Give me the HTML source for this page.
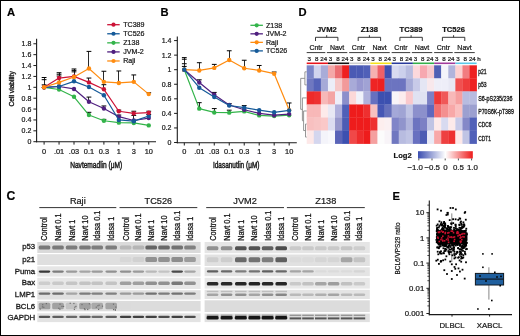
<!DOCTYPE html>
<html><head><meta charset="utf-8"><style>
html,body{margin:0;padding:0;background:#fff;}
svg{display:block;will-change:transform;}
text{font-family:"Liberation Sans", sans-serif;stroke:#1a1a1a;stroke-width:0.22px;}
</style></head><body>
<svg width="520" height="336" viewBox="0 0 520 336">
<rect x="0" y="0" width="520" height="336" fill="#fff"/>
<text x="6.90" y="15.70" font-size="11.2" text-anchor="start" font-weight="bold" fill="#000" >A</text>
<text x="160.50" y="15.70" font-size="11.2" text-anchor="start" font-weight="bold" fill="#000" >B</text>
<text x="6.60" y="199.70" font-size="12.2" text-anchor="start" font-weight="bold" fill="#000" >C</text>
<text x="298.40" y="15.70" font-size="11.2" text-anchor="start" font-weight="bold" fill="#000" >D</text>
<text x="392.60" y="199.60" font-size="11.2" text-anchor="start" font-weight="bold" fill="#000" >E</text>
<line x1="36.60" y1="38.80" x2="36.60" y2="142.30" stroke="#1a1a1a" stroke-width="1.1" />
<line x1="36.10" y1="141.80" x2="156.00" y2="141.80" stroke="#1a1a1a" stroke-width="1.1" />
<line x1="33.40" y1="141.70" x2="36.60" y2="141.70" stroke="#1a1a1a" stroke-width="1" />
<text x="31.30" y="144.20" font-size="7" text-anchor="end" font-weight="normal" fill="#1a1a1a" >0</text>
<line x1="33.40" y1="130.82" x2="36.60" y2="130.82" stroke="#1a1a1a" stroke-width="1" />
<text x="31.30" y="133.32" font-size="7" text-anchor="end" font-weight="normal" fill="#1a1a1a" >0.2</text>
<line x1="33.40" y1="119.94" x2="36.60" y2="119.94" stroke="#1a1a1a" stroke-width="1" />
<text x="31.30" y="122.44" font-size="7" text-anchor="end" font-weight="normal" fill="#1a1a1a" >0.4</text>
<line x1="33.40" y1="109.06" x2="36.60" y2="109.06" stroke="#1a1a1a" stroke-width="1" />
<text x="31.30" y="111.56" font-size="7" text-anchor="end" font-weight="normal" fill="#1a1a1a" >0.6</text>
<line x1="33.40" y1="98.18" x2="36.60" y2="98.18" stroke="#1a1a1a" stroke-width="1" />
<text x="31.30" y="100.68" font-size="7" text-anchor="end" font-weight="normal" fill="#1a1a1a" >0.8</text>
<line x1="33.40" y1="87.30" x2="36.60" y2="87.30" stroke="#1a1a1a" stroke-width="1" />
<text x="31.30" y="89.80" font-size="7" text-anchor="end" font-weight="normal" fill="#1a1a1a" >1</text>
<line x1="33.40" y1="76.42" x2="36.60" y2="76.42" stroke="#1a1a1a" stroke-width="1" />
<text x="31.30" y="78.92" font-size="7" text-anchor="end" font-weight="normal" fill="#1a1a1a" >1.2</text>
<line x1="33.40" y1="65.54" x2="36.60" y2="65.54" stroke="#1a1a1a" stroke-width="1" />
<text x="31.30" y="68.04" font-size="7" text-anchor="end" font-weight="normal" fill="#1a1a1a" >1.4</text>
<line x1="33.40" y1="54.66" x2="36.60" y2="54.66" stroke="#1a1a1a" stroke-width="1" />
<text x="31.30" y="57.16" font-size="7" text-anchor="end" font-weight="normal" fill="#1a1a1a" >1.6</text>
<line x1="33.40" y1="43.78" x2="36.60" y2="43.78" stroke="#1a1a1a" stroke-width="1" />
<text x="31.30" y="46.28" font-size="7" text-anchor="end" font-weight="normal" fill="#1a1a1a" >1.8</text>
<line x1="44.10" y1="141.80" x2="44.10" y2="144.60" stroke="#1a1a1a" stroke-width="1" />
<text x="44.10" y="153.80" font-size="7.4" text-anchor="middle" font-weight="normal" fill="#1a1a1a" >0</text>
<line x1="59.05" y1="141.80" x2="59.05" y2="144.60" stroke="#1a1a1a" stroke-width="1" />
<text x="59.05" y="153.80" font-size="7.4" text-anchor="middle" font-weight="normal" fill="#1a1a1a" >.01</text>
<line x1="74.00" y1="141.80" x2="74.00" y2="144.60" stroke="#1a1a1a" stroke-width="1" />
<text x="74.00" y="153.80" font-size="7.4" text-anchor="middle" font-weight="normal" fill="#1a1a1a" >.03</text>
<line x1="88.95" y1="141.80" x2="88.95" y2="144.60" stroke="#1a1a1a" stroke-width="1" />
<text x="88.95" y="153.80" font-size="7.4" text-anchor="middle" font-weight="normal" fill="#1a1a1a" >0.1</text>
<line x1="103.90" y1="141.80" x2="103.90" y2="144.60" stroke="#1a1a1a" stroke-width="1" />
<text x="103.90" y="153.80" font-size="7.4" text-anchor="middle" font-weight="normal" fill="#1a1a1a" >0.3</text>
<line x1="118.85" y1="141.80" x2="118.85" y2="144.60" stroke="#1a1a1a" stroke-width="1" />
<text x="118.85" y="153.80" font-size="7.4" text-anchor="middle" font-weight="normal" fill="#1a1a1a" >1</text>
<line x1="133.80" y1="141.80" x2="133.80" y2="144.60" stroke="#1a1a1a" stroke-width="1" />
<text x="133.80" y="153.80" font-size="7.4" text-anchor="middle" font-weight="normal" fill="#1a1a1a" >3</text>
<line x1="148.75" y1="141.80" x2="148.75" y2="144.60" stroke="#1a1a1a" stroke-width="1" />
<text x="148.75" y="153.80" font-size="7.4" text-anchor="middle" font-weight="normal" fill="#1a1a1a" >10</text>
<text x="96.20" y="167.60" font-size="8.3" text-anchor="middle" font-weight="normal" fill="#1a1a1a" textLength="52" lengthAdjust="spacingAndGlyphs" style="stroke-width:0.45px">Navtemadlin (μM)</text>
<line x1="44.50" y1="87.30" x2="44.50" y2="77.51" stroke="#2a2a2a" stroke-width="1.0" />
<line x1="41.70" y1="77.51" x2="46.50" y2="77.51" stroke="#000" stroke-width="1.0" />
<line x1="44.50" y1="87.30" x2="44.50" y2="79.68" stroke="#2a2a2a" stroke-width="1.0" />
<line x1="41.70" y1="79.68" x2="46.50" y2="79.68" stroke="#000" stroke-width="1.0" />
<line x1="44.50" y1="87.30" x2="44.50" y2="84.85" stroke="#2a2a2a" stroke-width="1.0" />
<line x1="41.70" y1="84.85" x2="46.50" y2="84.85" stroke="#000" stroke-width="1.0" />
<line x1="59.50" y1="78.05" x2="59.50" y2="72.72" stroke="#2a2a2a" stroke-width="1.0" />
<line x1="56.65" y1="72.72" x2="61.45" y2="72.72" stroke="#000" stroke-width="1.0" />
<line x1="59.50" y1="78.05" x2="59.50" y2="74.24" stroke="#2a2a2a" stroke-width="1.0" />
<line x1="56.65" y1="74.24" x2="61.45" y2="74.24" stroke="#000" stroke-width="1.0" />
<line x1="59.50" y1="82.40" x2="59.50" y2="76.04" stroke="#2a2a2a" stroke-width="1.0" />
<line x1="56.65" y1="76.04" x2="61.45" y2="76.04" stroke="#000" stroke-width="1.0" />
<line x1="74.50" y1="76.42" x2="74.50" y2="68.97" stroke="#2a2a2a" stroke-width="1.0" />
<line x1="71.60" y1="68.97" x2="76.40" y2="68.97" stroke="#000" stroke-width="1.0" />
<line x1="74.50" y1="76.42" x2="74.50" y2="70.38" stroke="#2a2a2a" stroke-width="1.0" />
<line x1="71.60" y1="70.38" x2="76.40" y2="70.38" stroke="#000" stroke-width="1.0" />
<line x1="74.50" y1="76.96" x2="74.50" y2="71.85" stroke="#2a2a2a" stroke-width="1.0" />
<line x1="71.60" y1="71.85" x2="76.40" y2="71.85" stroke="#000" stroke-width="1.0" />
<line x1="88.50" y1="68.53" x2="88.50" y2="51.40" stroke="#2a2a2a" stroke-width="1.0" />
<line x1="86.55" y1="51.40" x2="91.35" y2="51.40" stroke="#000" stroke-width="1.0" />
<line x1="88.50" y1="82.40" x2="88.50" y2="78.05" stroke="#2a2a2a" stroke-width="1.0" />
<line x1="86.55" y1="78.05" x2="91.35" y2="78.05" stroke="#000" stroke-width="1.0" />
<line x1="88.50" y1="101.72" x2="88.50" y2="97.09" stroke="#2a2a2a" stroke-width="1.0" />
<line x1="86.55" y1="97.09" x2="91.35" y2="97.09" stroke="#000" stroke-width="1.0" />
<line x1="88.50" y1="115.04" x2="88.50" y2="112.32" stroke="#2a2a2a" stroke-width="1.0" />
<line x1="86.55" y1="112.32" x2="91.35" y2="112.32" stroke="#000" stroke-width="1.0" />
<line x1="103.50" y1="81.86" x2="103.50" y2="71.25" stroke="#2a2a2a" stroke-width="1.0" />
<line x1="101.50" y1="71.25" x2="106.30" y2="71.25" stroke="#000" stroke-width="1.0" />
<line x1="103.50" y1="89.31" x2="103.50" y2="84.69" stroke="#2a2a2a" stroke-width="1.0" />
<line x1="101.50" y1="84.69" x2="106.30" y2="84.69" stroke="#000" stroke-width="1.0" />
<line x1="103.50" y1="108.52" x2="103.50" y2="105.96" stroke="#2a2a2a" stroke-width="1.0" />
<line x1="101.50" y1="105.96" x2="106.30" y2="105.96" stroke="#000" stroke-width="1.0" />
<line x1="103.50" y1="120.76" x2="103.50" y2="119.40" stroke="#2a2a2a" stroke-width="1.0" />
<line x1="101.50" y1="119.40" x2="106.30" y2="119.40" stroke="#000" stroke-width="1.0" />
<line x1="118.50" y1="82.95" x2="118.50" y2="70.98" stroke="#2a2a2a" stroke-width="1.0" />
<line x1="116.45" y1="70.98" x2="121.25" y2="70.98" stroke="#000" stroke-width="1.0" />
<line x1="118.50" y1="111.24" x2="118.50" y2="110.15" stroke="#2a2a2a" stroke-width="1.0" />
<line x1="116.45" y1="110.15" x2="121.25" y2="110.15" stroke="#000" stroke-width="1.0" />
<line x1="118.50" y1="116.68" x2="118.50" y2="115.04" stroke="#2a2a2a" stroke-width="1.0" />
<line x1="116.45" y1="115.04" x2="121.25" y2="115.04" stroke="#000" stroke-width="1.0" />
<line x1="133.50" y1="81.86" x2="133.50" y2="74.95" stroke="#2a2a2a" stroke-width="1.0" />
<line x1="131.40" y1="74.95" x2="136.20" y2="74.95" stroke="#000" stroke-width="1.0" />
<line x1="133.50" y1="113.41" x2="133.50" y2="111.24" stroke="#2a2a2a" stroke-width="1.0" />
<line x1="131.40" y1="111.24" x2="136.20" y2="111.24" stroke="#000" stroke-width="1.0" />
<line x1="133.50" y1="121.19" x2="133.50" y2="115.42" stroke="#2a2a2a" stroke-width="1.0" />
<line x1="131.40" y1="115.42" x2="136.20" y2="115.42" stroke="#000" stroke-width="1.0" />
<line x1="148.50" y1="94.10" x2="148.50" y2="92.74" stroke="#2a2a2a" stroke-width="1.0" />
<line x1="146.35" y1="92.74" x2="151.15" y2="92.74" stroke="#000" stroke-width="1.0" />
<line x1="148.50" y1="112.70" x2="148.50" y2="111.24" stroke="#2a2a2a" stroke-width="1.0" />
<line x1="146.35" y1="111.24" x2="151.15" y2="111.24" stroke="#000" stroke-width="1.0" />
<line x1="148.50" y1="115.97" x2="148.50" y2="114.50" stroke="#2a2a2a" stroke-width="1.0" />
<line x1="146.35" y1="114.50" x2="151.15" y2="114.50" stroke="#000" stroke-width="1.0" />
<polyline points="44.10,87.30 59.05,89.48 74.00,96.82 88.95,115.04 103.90,120.76 118.85,122.66 133.80,122.93 148.75,125.38" fill="none" stroke="#33b44a" stroke-width="1.2" stroke-linejoin="round"/>
<circle cx="44.10" cy="87.30" r="2.2" fill="#33b44a"/>
<circle cx="59.05" cy="89.48" r="2.2" fill="#33b44a"/>
<circle cx="74.00" cy="96.82" r="2.2" fill="#33b44a"/>
<circle cx="88.95" cy="115.04" r="2.2" fill="#33b44a"/>
<circle cx="103.90" cy="120.76" r="2.2" fill="#33b44a"/>
<circle cx="118.85" cy="122.66" r="2.2" fill="#33b44a"/>
<circle cx="133.80" cy="122.93" r="2.2" fill="#33b44a"/>
<circle cx="148.75" cy="125.38" r="2.2" fill="#33b44a"/>
<polyline points="44.10,87.30 59.05,86.48 74.00,88.93 88.95,101.72 103.90,108.52 118.85,116.68 133.80,120.48 148.75,118.09" fill="none" stroke="#4f1f7f" stroke-width="1.2" stroke-linejoin="round"/>
<circle cx="44.10" cy="87.30" r="2.2" fill="#4f1f7f"/>
<circle cx="59.05" cy="86.48" r="2.2" fill="#4f1f7f"/>
<circle cx="74.00" cy="88.93" r="2.2" fill="#4f1f7f"/>
<circle cx="88.95" cy="101.72" r="2.2" fill="#4f1f7f"/>
<circle cx="103.90" cy="108.52" r="2.2" fill="#4f1f7f"/>
<circle cx="118.85" cy="116.68" r="2.2" fill="#4f1f7f"/>
<circle cx="133.80" cy="120.48" r="2.2" fill="#4f1f7f"/>
<circle cx="148.75" cy="118.09" r="2.2" fill="#4f1f7f"/>
<polyline points="44.10,87.30 59.05,86.48 74.00,81.32 88.95,87.03 103.90,95.19 118.85,119.94 133.80,121.19 148.75,115.97" fill="none" stroke="#155a99" stroke-width="1.2" stroke-linejoin="round"/>
<circle cx="44.10" cy="87.30" r="2.2" fill="#155a99"/>
<circle cx="59.05" cy="86.48" r="2.2" fill="#155a99"/>
<circle cx="74.00" cy="81.32" r="2.2" fill="#155a99"/>
<circle cx="88.95" cy="87.03" r="2.2" fill="#155a99"/>
<circle cx="103.90" cy="95.19" r="2.2" fill="#155a99"/>
<circle cx="118.85" cy="119.94" r="2.2" fill="#155a99"/>
<circle cx="133.80" cy="121.19" r="2.2" fill="#155a99"/>
<circle cx="148.75" cy="115.97" r="2.2" fill="#155a99"/>
<polyline points="44.10,87.30 59.05,78.05 74.00,76.42 88.95,82.40 103.90,89.31 118.85,111.24 133.80,113.41 148.75,112.70" fill="none" stroke="#cc1236" stroke-width="1.2" stroke-linejoin="round"/>
<circle cx="44.10" cy="87.30" r="2.2" fill="#cc1236"/>
<circle cx="59.05" cy="78.05" r="2.2" fill="#cc1236"/>
<circle cx="74.00" cy="76.42" r="2.2" fill="#cc1236"/>
<circle cx="88.95" cy="82.40" r="2.2" fill="#cc1236"/>
<circle cx="103.90" cy="89.31" r="2.2" fill="#cc1236"/>
<circle cx="118.85" cy="111.24" r="2.2" fill="#cc1236"/>
<circle cx="133.80" cy="113.41" r="2.2" fill="#cc1236"/>
<circle cx="148.75" cy="112.70" r="2.2" fill="#cc1236"/>
<polyline points="44.10,87.30 59.05,82.40 74.00,76.96 88.95,68.53 103.90,81.86 118.85,82.95 133.80,81.86 148.75,94.10" fill="none" stroke="#ff8c10" stroke-width="1.2" stroke-linejoin="round"/>
<circle cx="44.10" cy="87.30" r="2.2" fill="#ff8c10"/>
<circle cx="59.05" cy="82.40" r="2.2" fill="#ff8c10"/>
<circle cx="74.00" cy="76.96" r="2.2" fill="#ff8c10"/>
<circle cx="88.95" cy="68.53" r="2.2" fill="#ff8c10"/>
<circle cx="103.90" cy="81.86" r="2.2" fill="#ff8c10"/>
<circle cx="118.85" cy="82.95" r="2.2" fill="#ff8c10"/>
<circle cx="133.80" cy="81.86" r="2.2" fill="#ff8c10"/>
<circle cx="148.75" cy="94.10" r="2.2" fill="#ff8c10"/>
<line x1="107.20" y1="24.70" x2="119.70" y2="24.70" stroke="#cc1236" stroke-width="1.3" />
<circle cx="113.50" cy="24.70" r="2.1" fill="#cc1236"/>
<text x="123.20" y="27.20" font-size="7.1" text-anchor="start" font-weight="normal" fill="#1a1a1a" >TC389</text>
<line x1="107.20" y1="33.77" x2="119.70" y2="33.77" stroke="#155a99" stroke-width="1.3" />
<circle cx="113.50" cy="33.77" r="2.1" fill="#155a99"/>
<text x="123.20" y="36.27" font-size="7.1" text-anchor="start" font-weight="normal" fill="#1a1a1a" >TC526</text>
<line x1="107.20" y1="42.84" x2="119.70" y2="42.84" stroke="#33b44a" stroke-width="1.3" />
<circle cx="113.50" cy="42.84" r="2.1" fill="#33b44a"/>
<text x="123.20" y="45.34" font-size="7.1" text-anchor="start" font-weight="normal" fill="#1a1a1a" >Z138</text>
<line x1="107.20" y1="51.91" x2="119.70" y2="51.91" stroke="#4f1f7f" stroke-width="1.3" />
<circle cx="113.50" cy="51.91" r="2.1" fill="#4f1f7f"/>
<text x="123.20" y="54.41" font-size="7.1" text-anchor="start" font-weight="normal" fill="#1a1a1a" >JVM-2</text>
<line x1="107.20" y1="60.98" x2="119.70" y2="60.98" stroke="#ff8c10" stroke-width="1.3" />
<circle cx="113.50" cy="60.98" r="2.1" fill="#ff8c10"/>
<text x="123.20" y="63.48" font-size="7.1" text-anchor="start" font-weight="normal" fill="#1a1a1a" >Raji</text>
<text transform="translate(14.2,88.9) rotate(-90)" font-size="6.7" text-anchor="middle" fill="#1a1a1a" style="stroke-width:0.35px">Cell viability</text>
<line x1="177.30" y1="36.40" x2="177.30" y2="143.20" stroke="#1a1a1a" stroke-width="1.1" />
<line x1="176.80" y1="142.70" x2="296.80" y2="142.70" stroke="#1a1a1a" stroke-width="1.1" />
<line x1="174.10" y1="142.50" x2="177.30" y2="142.50" stroke="#1a1a1a" stroke-width="1" />
<text x="171.40" y="145.00" font-size="7" text-anchor="end" font-weight="normal" fill="#1a1a1a" >0</text>
<line x1="174.10" y1="127.94" x2="177.30" y2="127.94" stroke="#1a1a1a" stroke-width="1" />
<text x="171.40" y="130.44" font-size="7" text-anchor="end" font-weight="normal" fill="#1a1a1a" >0.2</text>
<line x1="174.10" y1="113.38" x2="177.30" y2="113.38" stroke="#1a1a1a" stroke-width="1" />
<text x="171.40" y="115.88" font-size="7" text-anchor="end" font-weight="normal" fill="#1a1a1a" >0.4</text>
<line x1="174.10" y1="98.82" x2="177.30" y2="98.82" stroke="#1a1a1a" stroke-width="1" />
<text x="171.40" y="101.32" font-size="7" text-anchor="end" font-weight="normal" fill="#1a1a1a" >0.6</text>
<line x1="174.10" y1="84.26" x2="177.30" y2="84.26" stroke="#1a1a1a" stroke-width="1" />
<text x="171.40" y="86.76" font-size="7" text-anchor="end" font-weight="normal" fill="#1a1a1a" >0.8</text>
<line x1="174.10" y1="69.70" x2="177.30" y2="69.70" stroke="#1a1a1a" stroke-width="1" />
<text x="171.40" y="72.20" font-size="7" text-anchor="end" font-weight="normal" fill="#1a1a1a" >1</text>
<line x1="174.10" y1="55.14" x2="177.30" y2="55.14" stroke="#1a1a1a" stroke-width="1" />
<text x="171.40" y="57.64" font-size="7" text-anchor="end" font-weight="normal" fill="#1a1a1a" >1.2</text>
<line x1="174.10" y1="40.58" x2="177.30" y2="40.58" stroke="#1a1a1a" stroke-width="1" />
<text x="171.40" y="43.08" font-size="7" text-anchor="end" font-weight="normal" fill="#1a1a1a" >1.4</text>
<line x1="184.30" y1="142.70" x2="184.30" y2="145.50" stroke="#1a1a1a" stroke-width="1" />
<text x="184.30" y="154.00" font-size="7.4" text-anchor="middle" font-weight="normal" fill="#1a1a1a" >0</text>
<line x1="199.28" y1="142.70" x2="199.28" y2="145.50" stroke="#1a1a1a" stroke-width="1" />
<text x="199.28" y="154.00" font-size="7.4" text-anchor="middle" font-weight="normal" fill="#1a1a1a" >.01</text>
<line x1="214.26" y1="142.70" x2="214.26" y2="145.50" stroke="#1a1a1a" stroke-width="1" />
<text x="214.26" y="154.00" font-size="7.4" text-anchor="middle" font-weight="normal" fill="#1a1a1a" >.03</text>
<line x1="229.24" y1="142.70" x2="229.24" y2="145.50" stroke="#1a1a1a" stroke-width="1" />
<text x="229.24" y="154.00" font-size="7.4" text-anchor="middle" font-weight="normal" fill="#1a1a1a" >0.1</text>
<line x1="244.22" y1="142.70" x2="244.22" y2="145.50" stroke="#1a1a1a" stroke-width="1" />
<text x="244.22" y="154.00" font-size="7.4" text-anchor="middle" font-weight="normal" fill="#1a1a1a" >0.3</text>
<line x1="259.20" y1="142.70" x2="259.20" y2="145.50" stroke="#1a1a1a" stroke-width="1" />
<text x="259.20" y="154.00" font-size="7.4" text-anchor="middle" font-weight="normal" fill="#1a1a1a" >1</text>
<line x1="274.18" y1="142.70" x2="274.18" y2="145.50" stroke="#1a1a1a" stroke-width="1" />
<text x="274.18" y="154.00" font-size="7.4" text-anchor="middle" font-weight="normal" fill="#1a1a1a" >3</text>
<line x1="289.16" y1="142.70" x2="289.16" y2="145.50" stroke="#1a1a1a" stroke-width="1" />
<text x="289.16" y="154.00" font-size="7.4" text-anchor="middle" font-weight="normal" fill="#1a1a1a" >10</text>
<text x="236.20" y="167.60" font-size="8.3" text-anchor="middle" font-weight="normal" fill="#1a1a1a" textLength="46.5" lengthAdjust="spacingAndGlyphs" style="stroke-width:0.45px">Idasanutlin (μM)</text>
<line x1="184.50" y1="69.70" x2="184.50" y2="57.62" stroke="#2a2a2a" stroke-width="1.0" />
<line x1="181.90" y1="57.62" x2="186.70" y2="57.62" stroke="#000" stroke-width="1.0" />
<line x1="184.50" y1="69.70" x2="184.50" y2="59.22" stroke="#2a2a2a" stroke-width="1.0" />
<line x1="181.90" y1="59.22" x2="186.70" y2="59.22" stroke="#000" stroke-width="1.0" />
<line x1="184.50" y1="69.70" x2="184.50" y2="63.73" stroke="#2a2a2a" stroke-width="1.0" />
<line x1="181.90" y1="63.73" x2="186.70" y2="63.73" stroke="#000" stroke-width="1.0" />
<line x1="184.50" y1="69.70" x2="184.50" y2="66.42" stroke="#2a2a2a" stroke-width="1.0" />
<line x1="181.90" y1="66.42" x2="186.70" y2="66.42" stroke="#000" stroke-width="1.0" />
<line x1="199.50" y1="70.43" x2="199.50" y2="62.71" stroke="#2a2a2a" stroke-width="1.0" />
<line x1="196.88" y1="62.71" x2="201.68" y2="62.71" stroke="#000" stroke-width="1.0" />
<line x1="199.50" y1="82.44" x2="199.50" y2="79.82" stroke="#2a2a2a" stroke-width="1.0" />
<line x1="196.88" y1="79.82" x2="201.68" y2="79.82" stroke="#000" stroke-width="1.0" />
<line x1="199.50" y1="108.65" x2="199.50" y2="102.68" stroke="#2a2a2a" stroke-width="1.0" />
<line x1="196.88" y1="102.68" x2="201.68" y2="102.68" stroke="#000" stroke-width="1.0" />
<line x1="214.50" y1="67.88" x2="214.50" y2="64.39" stroke="#2a2a2a" stroke-width="1.0" />
<line x1="211.86" y1="64.39" x2="216.66" y2="64.39" stroke="#000" stroke-width="1.0" />
<line x1="214.50" y1="94.82" x2="214.50" y2="92.41" stroke="#2a2a2a" stroke-width="1.0" />
<line x1="211.86" y1="92.41" x2="216.66" y2="92.41" stroke="#000" stroke-width="1.0" />
<line x1="214.50" y1="112.43" x2="214.50" y2="108.58" stroke="#2a2a2a" stroke-width="1.0" />
<line x1="211.86" y1="108.58" x2="216.66" y2="108.58" stroke="#000" stroke-width="1.0" />
<line x1="229.50" y1="60.02" x2="229.50" y2="50.77" stroke="#2a2a2a" stroke-width="1.0" />
<line x1="226.84" y1="50.77" x2="231.64" y2="50.77" stroke="#000" stroke-width="1.0" />
<line x1="229.50" y1="105.01" x2="229.50" y2="103.55" stroke="#2a2a2a" stroke-width="1.0" />
<line x1="226.84" y1="103.55" x2="231.64" y2="103.55" stroke="#000" stroke-width="1.0" />
<line x1="229.50" y1="112.65" x2="229.50" y2="110.18" stroke="#2a2a2a" stroke-width="1.0" />
<line x1="226.84" y1="110.18" x2="231.64" y2="110.18" stroke="#000" stroke-width="1.0" />
<line x1="244.50" y1="68.24" x2="244.50" y2="60.24" stroke="#2a2a2a" stroke-width="1.0" />
<line x1="241.82" y1="60.24" x2="246.62" y2="60.24" stroke="#000" stroke-width="1.0" />
<line x1="244.50" y1="107.63" x2="244.50" y2="105.59" stroke="#2a2a2a" stroke-width="1.0" />
<line x1="241.82" y1="105.59" x2="246.62" y2="105.59" stroke="#000" stroke-width="1.0" />
<line x1="259.50" y1="70.43" x2="259.50" y2="65.48" stroke="#2a2a2a" stroke-width="1.0" />
<line x1="256.80" y1="65.48" x2="261.60" y2="65.48" stroke="#000" stroke-width="1.0" />
<line x1="274.50" y1="73.70" x2="274.50" y2="72.03" stroke="#2a2a2a" stroke-width="1.0" />
<line x1="271.78" y1="72.03" x2="276.58" y2="72.03" stroke="#000" stroke-width="1.0" />
<line x1="289.50" y1="110.10" x2="289.50" y2="102.97" stroke="#2a2a2a" stroke-width="1.0" />
<line x1="286.76" y1="102.97" x2="291.56" y2="102.97" stroke="#000" stroke-width="1.0" />
<polyline points="184.30,69.70 199.28,108.65 214.26,112.43 229.24,112.65 244.22,111.41 259.20,115.42 274.18,116.07 289.16,115.20" fill="none" stroke="#33b44a" stroke-width="1.2" stroke-linejoin="round"/>
<circle cx="184.30" cy="69.70" r="2.2" fill="#33b44a"/>
<circle cx="199.28" cy="108.65" r="2.2" fill="#33b44a"/>
<circle cx="214.26" cy="112.43" r="2.2" fill="#33b44a"/>
<circle cx="229.24" cy="112.65" r="2.2" fill="#33b44a"/>
<circle cx="244.22" cy="111.41" r="2.2" fill="#33b44a"/>
<circle cx="259.20" cy="115.42" r="2.2" fill="#33b44a"/>
<circle cx="274.18" cy="116.07" r="2.2" fill="#33b44a"/>
<circle cx="289.16" cy="115.20" r="2.2" fill="#33b44a"/>
<polyline points="184.30,69.70 199.28,82.44 214.26,94.82 229.24,105.01 244.22,109.74 259.20,113.38 274.18,115.20 289.16,114.11" fill="none" stroke="#4f1f7f" stroke-width="1.2" stroke-linejoin="round"/>
<circle cx="184.30" cy="69.70" r="2.2" fill="#4f1f7f"/>
<circle cx="199.28" cy="82.44" r="2.2" fill="#4f1f7f"/>
<circle cx="214.26" cy="94.82" r="2.2" fill="#4f1f7f"/>
<circle cx="229.24" cy="105.01" r="2.2" fill="#4f1f7f"/>
<circle cx="244.22" cy="109.74" r="2.2" fill="#4f1f7f"/>
<circle cx="259.20" cy="113.38" r="2.2" fill="#4f1f7f"/>
<circle cx="274.18" cy="115.20" r="2.2" fill="#4f1f7f"/>
<circle cx="289.16" cy="114.11" r="2.2" fill="#4f1f7f"/>
<polyline points="184.30,69.70 199.28,70.43 214.26,67.88 229.24,60.02 244.22,68.24 259.20,70.43 274.18,73.70 289.16,110.10" fill="none" stroke="#ff8c10" stroke-width="1.2" stroke-linejoin="round"/>
<circle cx="184.30" cy="69.70" r="2.2" fill="#ff8c10"/>
<circle cx="199.28" cy="70.43" r="2.2" fill="#ff8c10"/>
<circle cx="214.26" cy="67.88" r="2.2" fill="#ff8c10"/>
<circle cx="229.24" cy="60.02" r="2.2" fill="#ff8c10"/>
<circle cx="244.22" cy="68.24" r="2.2" fill="#ff8c10"/>
<circle cx="259.20" cy="70.43" r="2.2" fill="#ff8c10"/>
<circle cx="274.18" cy="73.70" r="2.2" fill="#ff8c10"/>
<circle cx="289.16" cy="110.10" r="2.2" fill="#ff8c10"/>
<polyline points="184.30,69.70 199.28,87.68 214.26,96.93 229.24,105.52 244.22,107.63 259.20,110.18 274.18,112.29 289.16,110.47" fill="none" stroke="#155a99" stroke-width="1.2" stroke-linejoin="round"/>
<circle cx="184.30" cy="69.70" r="2.2" fill="#155a99"/>
<circle cx="199.28" cy="87.68" r="2.2" fill="#155a99"/>
<circle cx="214.26" cy="96.93" r="2.2" fill="#155a99"/>
<circle cx="229.24" cy="105.52" r="2.2" fill="#155a99"/>
<circle cx="244.22" cy="107.63" r="2.2" fill="#155a99"/>
<circle cx="259.20" cy="110.18" r="2.2" fill="#155a99"/>
<circle cx="274.18" cy="112.29" r="2.2" fill="#155a99"/>
<circle cx="289.16" cy="110.47" r="2.2" fill="#155a99"/>
<line x1="250.40" y1="25.30" x2="262.90" y2="25.30" stroke="#33b44a" stroke-width="1.3" />
<circle cx="256.70" cy="25.30" r="2.1" fill="#33b44a"/>
<text x="266.00" y="27.80" font-size="7.1" text-anchor="start" font-weight="normal" fill="#1a1a1a" >Z138</text>
<line x1="250.40" y1="33.83" x2="262.90" y2="33.83" stroke="#4f1f7f" stroke-width="1.3" />
<circle cx="256.70" cy="33.83" r="2.1" fill="#4f1f7f"/>
<text x="266.00" y="36.33" font-size="7.1" text-anchor="start" font-weight="normal" fill="#1a1a1a" >JVM-2</text>
<line x1="250.40" y1="42.36" x2="262.90" y2="42.36" stroke="#ff8c10" stroke-width="1.3" />
<circle cx="256.70" cy="42.36" r="2.1" fill="#ff8c10"/>
<text x="266.00" y="44.86" font-size="7.1" text-anchor="start" font-weight="normal" fill="#1a1a1a" >Raji</text>
<line x1="250.40" y1="50.89" x2="262.90" y2="50.89" stroke="#155a99" stroke-width="1.3" />
<circle cx="256.70" cy="50.89" r="2.1" fill="#155a99"/>
<text x="266.00" y="53.39" font-size="7.1" text-anchor="start" font-weight="normal" fill="#1a1a1a" >TC526</text>
<rect x="306.70" y="65.30" width="7.38" height="13.35" fill="#7b86c8"/>
<rect x="313.78" y="65.30" width="7.38" height="13.35" fill="#d0d4ee"/>
<rect x="320.86" y="65.30" width="7.38" height="13.35" fill="#a8acd8"/>
<rect x="327.94" y="65.30" width="7.38" height="13.35" fill="#f4a8a8"/>
<rect x="335.02" y="65.30" width="7.38" height="13.35" fill="#ec6f73"/>
<rect x="342.10" y="65.30" width="7.38" height="13.35" fill="#ee2020"/>
<rect x="349.18" y="65.30" width="7.38" height="13.35" fill="#4a5ab4"/>
<rect x="356.25" y="65.30" width="7.38" height="13.35" fill="#4a5ab4"/>
<rect x="363.33" y="65.30" width="7.38" height="13.35" fill="#5060b8"/>
<rect x="370.41" y="65.30" width="7.38" height="13.35" fill="#f6b0b0"/>
<rect x="377.49" y="65.30" width="7.38" height="13.35" fill="#ee6066"/>
<rect x="384.57" y="65.30" width="7.38" height="13.35" fill="#3f50b0"/>
<rect x="391.65" y="65.30" width="7.38" height="13.35" fill="#d8daf0"/>
<rect x="398.73" y="65.30" width="7.38" height="13.35" fill="#ccd0ec"/>
<rect x="405.81" y="65.30" width="7.38" height="13.35" fill="#b8bce0"/>
<rect x="412.89" y="65.30" width="7.38" height="13.35" fill="#fcd8dc"/>
<rect x="419.97" y="65.30" width="7.38" height="13.35" fill="#f7a8b0"/>
<rect x="427.05" y="65.30" width="7.38" height="13.35" fill="#f8c8cc"/>
<rect x="434.12" y="65.30" width="7.38" height="13.35" fill="#5060b4"/>
<rect x="441.20" y="65.30" width="7.38" height="13.35" fill="#f4f4fa"/>
<rect x="448.28" y="65.30" width="7.38" height="13.35" fill="#b0b4dc"/>
<rect x="455.36" y="65.30" width="7.38" height="13.35" fill="#fcd0d0"/>
<rect x="462.44" y="65.30" width="7.38" height="13.35" fill="#f27c80"/>
<rect x="469.52" y="65.30" width="7.38" height="13.35" fill="#ee2020"/>
<rect x="306.70" y="78.35" width="7.38" height="13.35" fill="#6f78c0"/>
<rect x="313.78" y="78.35" width="7.38" height="13.35" fill="#5563b8"/>
<rect x="320.86" y="78.35" width="7.38" height="13.35" fill="#a6aad8"/>
<rect x="327.94" y="78.35" width="7.38" height="13.35" fill="#eceef8"/>
<rect x="335.02" y="78.35" width="7.38" height="13.35" fill="#f6c8c8"/>
<rect x="342.10" y="78.35" width="7.38" height="13.35" fill="#f29a9a"/>
<rect x="349.18" y="78.35" width="7.38" height="13.35" fill="#a8aad8"/>
<rect x="356.25" y="78.35" width="7.38" height="13.35" fill="#9898d0"/>
<rect x="363.33" y="78.35" width="7.38" height="13.35" fill="#a0a2d4"/>
<rect x="370.41" y="78.35" width="7.38" height="13.35" fill="#ee2424"/>
<rect x="377.49" y="78.35" width="7.38" height="13.35" fill="#ee2020"/>
<rect x="384.57" y="78.35" width="7.38" height="13.35" fill="#6c74c0"/>
<rect x="391.65" y="78.35" width="7.38" height="13.35" fill="#6c74c0"/>
<rect x="398.73" y="78.35" width="7.38" height="13.35" fill="#6c74c0"/>
<rect x="405.81" y="78.35" width="7.38" height="13.35" fill="#a8acd8"/>
<rect x="412.89" y="78.35" width="7.38" height="13.35" fill="#c8cae8"/>
<rect x="419.97" y="78.35" width="7.38" height="13.35" fill="#e4e6f4"/>
<rect x="427.05" y="78.35" width="7.38" height="13.35" fill="#f8e8ec"/>
<rect x="434.12" y="78.35" width="7.38" height="13.35" fill="#eeeef8"/>
<rect x="441.20" y="78.35" width="7.38" height="13.35" fill="#eeeef8"/>
<rect x="448.28" y="78.35" width="7.38" height="13.35" fill="#e8e8f4"/>
<rect x="455.36" y="78.35" width="7.38" height="13.35" fill="#f05050"/>
<rect x="462.44" y="78.35" width="7.38" height="13.35" fill="#ee3c3c"/>
<rect x="469.52" y="78.35" width="7.38" height="13.35" fill="#ee2020"/>
<rect x="306.70" y="91.40" width="7.38" height="13.35" fill="#ee2a2a"/>
<rect x="313.78" y="91.40" width="7.38" height="13.35" fill="#ee3030"/>
<rect x="320.86" y="91.40" width="7.38" height="13.35" fill="#f7b8b8"/>
<rect x="327.94" y="91.40" width="7.38" height="13.35" fill="#f4a4a4"/>
<rect x="335.02" y="91.40" width="7.38" height="13.35" fill="#eeeef8"/>
<rect x="342.10" y="91.40" width="7.38" height="13.35" fill="#8b8fcb"/>
<rect x="349.18" y="91.40" width="7.38" height="13.35" fill="#fcd8d8"/>
<rect x="356.25" y="91.40" width="7.38" height="13.35" fill="#f0f2fa"/>
<rect x="363.33" y="91.40" width="7.38" height="13.35" fill="#b0b2dc"/>
<rect x="370.41" y="91.40" width="7.38" height="13.35" fill="#6670c0"/>
<rect x="377.49" y="91.40" width="7.38" height="13.35" fill="#3c50b0"/>
<rect x="384.57" y="91.40" width="7.38" height="13.35" fill="#3c50b0"/>
<rect x="391.65" y="91.40" width="7.38" height="13.35" fill="#f8f4f8"/>
<rect x="398.73" y="91.40" width="7.38" height="13.35" fill="#fcecee"/>
<rect x="405.81" y="91.40" width="7.38" height="13.35" fill="#fac8cc"/>
<rect x="412.89" y="91.40" width="7.38" height="13.35" fill="#e0e2f2"/>
<rect x="419.97" y="91.40" width="7.38" height="13.35" fill="#e0e2f2"/>
<rect x="427.05" y="91.40" width="7.38" height="13.35" fill="#7c80c4"/>
<rect x="434.12" y="91.40" width="7.38" height="13.35" fill="#ee3838"/>
<rect x="441.20" y="91.40" width="7.38" height="13.35" fill="#f05858"/>
<rect x="448.28" y="91.40" width="7.38" height="13.35" fill="#f8b8b8"/>
<rect x="455.36" y="91.40" width="7.38" height="13.35" fill="#f6a0a0"/>
<rect x="462.44" y="91.40" width="7.38" height="13.35" fill="#b8bce0"/>
<rect x="469.52" y="91.40" width="7.38" height="13.35" fill="#b8bce0"/>
<rect x="306.70" y="104.45" width="7.38" height="13.35" fill="#f8b8b8"/>
<rect x="313.78" y="104.45" width="7.38" height="13.35" fill="#f8b8b8"/>
<rect x="320.86" y="104.45" width="7.38" height="13.35" fill="#fdeaea"/>
<rect x="327.94" y="104.45" width="7.38" height="13.35" fill="#e8e8f4"/>
<rect x="335.02" y="104.45" width="7.38" height="13.35" fill="#b0b0dc"/>
<rect x="342.10" y="104.45" width="7.38" height="13.35" fill="#5060b8"/>
<rect x="349.18" y="104.45" width="7.38" height="13.35" fill="#ee1c1c"/>
<rect x="356.25" y="104.45" width="7.38" height="13.35" fill="#ee1c1c"/>
<rect x="363.33" y="104.45" width="7.38" height="13.35" fill="#ee3030"/>
<rect x="370.41" y="104.45" width="7.38" height="13.35" fill="#f8c0c0"/>
<rect x="377.49" y="104.45" width="7.38" height="13.35" fill="#4656b4"/>
<rect x="384.57" y="104.45" width="7.38" height="13.35" fill="#6670bc"/>
<rect x="391.65" y="104.45" width="7.38" height="13.35" fill="#a4a8d8"/>
<rect x="398.73" y="104.45" width="7.38" height="13.35" fill="#a0a4d4"/>
<rect x="405.81" y="104.45" width="7.38" height="13.35" fill="#c0c4e4"/>
<rect x="412.89" y="104.45" width="7.38" height="13.35" fill="#8c90cc"/>
<rect x="419.97" y="104.45" width="7.38" height="13.35" fill="#8c90cc"/>
<rect x="427.05" y="104.45" width="7.38" height="13.35" fill="#6068bc"/>
<rect x="434.12" y="104.45" width="7.38" height="13.35" fill="#f27070"/>
<rect x="441.20" y="104.45" width="7.38" height="13.35" fill="#f49090"/>
<rect x="448.28" y="104.45" width="7.38" height="13.35" fill="#f8a8a8"/>
<rect x="455.36" y="104.45" width="7.38" height="13.35" fill="#fac0c0"/>
<rect x="462.44" y="104.45" width="7.38" height="13.35" fill="#9ca0d0"/>
<rect x="469.52" y="104.45" width="7.38" height="13.35" fill="#9ca0d0"/>
<rect x="306.70" y="117.50" width="7.38" height="13.35" fill="#f8c0c0"/>
<rect x="313.78" y="117.50" width="7.38" height="13.35" fill="#f8c4c4"/>
<rect x="320.86" y="117.50" width="7.38" height="13.35" fill="#fac8c8"/>
<rect x="327.94" y="117.50" width="7.38" height="13.35" fill="#dcdcf0"/>
<rect x="335.02" y="117.50" width="7.38" height="13.35" fill="#9898cc"/>
<rect x="342.10" y="117.50" width="7.38" height="13.35" fill="#4c5cb4"/>
<rect x="349.18" y="117.50" width="7.38" height="13.35" fill="#ee1c1c"/>
<rect x="356.25" y="117.50" width="7.38" height="13.35" fill="#ee1c1c"/>
<rect x="363.33" y="117.50" width="7.38" height="13.35" fill="#ee1c1c"/>
<rect x="370.41" y="117.50" width="7.38" height="13.35" fill="#ee3030"/>
<rect x="377.49" y="117.50" width="7.38" height="13.35" fill="#fdeeee"/>
<rect x="384.57" y="117.50" width="7.38" height="13.35" fill="#fbf0f2"/>
<rect x="391.65" y="117.50" width="7.38" height="13.35" fill="#8084c8"/>
<rect x="398.73" y="117.50" width="7.38" height="13.35" fill="#9094cc"/>
<rect x="405.81" y="117.50" width="7.38" height="13.35" fill="#b0b4dc"/>
<rect x="412.89" y="117.50" width="7.38" height="13.35" fill="#6c74c0"/>
<rect x="419.97" y="117.50" width="7.38" height="13.35" fill="#7c80c4"/>
<rect x="427.05" y="117.50" width="7.38" height="13.35" fill="#c0c4e4"/>
<rect x="434.12" y="117.50" width="7.38" height="13.35" fill="#fdeaea"/>
<rect x="441.20" y="117.50" width="7.38" height="13.35" fill="#d8daf0"/>
<rect x="448.28" y="117.50" width="7.38" height="13.35" fill="#fdeaea"/>
<rect x="455.36" y="117.50" width="7.38" height="13.35" fill="#c8cae8"/>
<rect x="462.44" y="117.50" width="7.38" height="13.35" fill="#8488c8"/>
<rect x="469.52" y="117.50" width="7.38" height="13.35" fill="#5060b8"/>
<rect x="306.70" y="130.55" width="7.38" height="13.35" fill="#fde8e8"/>
<rect x="313.78" y="130.55" width="7.38" height="13.35" fill="#d4d6ee"/>
<rect x="320.86" y="130.55" width="7.38" height="13.35" fill="#f4f4fa"/>
<rect x="327.94" y="130.55" width="7.38" height="13.35" fill="#f8f8fc"/>
<rect x="335.02" y="130.55" width="7.38" height="13.35" fill="#5a64b8"/>
<rect x="342.10" y="130.55" width="7.38" height="13.35" fill="#3c50b0"/>
<rect x="349.18" y="130.55" width="7.38" height="13.35" fill="#f04848"/>
<rect x="356.25" y="130.55" width="7.38" height="13.35" fill="#ee2c2c"/>
<rect x="363.33" y="130.55" width="7.38" height="13.35" fill="#ee1c1c"/>
<rect x="370.41" y="130.55" width="7.38" height="13.35" fill="#f5a0a0"/>
<rect x="377.49" y="130.55" width="7.38" height="13.35" fill="#fcfcfc"/>
<rect x="384.57" y="130.55" width="7.38" height="13.35" fill="#f8f4f8"/>
<rect x="391.65" y="130.55" width="7.38" height="13.35" fill="#7078c0"/>
<rect x="398.73" y="130.55" width="7.38" height="13.35" fill="#b8bce0"/>
<rect x="405.81" y="130.55" width="7.38" height="13.35" fill="#c0c4e4"/>
<rect x="412.89" y="130.55" width="7.38" height="13.35" fill="#6870c0"/>
<rect x="419.97" y="130.55" width="7.38" height="13.35" fill="#4c5cb4"/>
<rect x="427.05" y="130.55" width="7.38" height="13.35" fill="#e8eaf6"/>
<rect x="434.12" y="130.55" width="7.38" height="13.35" fill="#f8a8a8"/>
<rect x="441.20" y="130.55" width="7.38" height="13.35" fill="#ee4040"/>
<rect x="448.28" y="130.55" width="7.38" height="13.35" fill="#ee3030"/>
<rect x="455.36" y="130.55" width="7.38" height="13.35" fill="#fde8e8"/>
<rect x="462.44" y="130.55" width="7.38" height="13.35" fill="#c0c4e4"/>
<rect x="469.52" y="130.55" width="7.38" height="13.35" fill="#5060b8"/>
<text x="478.20" y="74.00" font-size="6.6" text-anchor="start" font-weight="normal" fill="#1a1a1a" textLength="8.4" lengthAdjust="spacingAndGlyphs" style="stroke-width:0.32px">p21</text>
<text x="478.20" y="87.40" font-size="6.6" text-anchor="start" font-weight="normal" fill="#1a1a1a" textLength="8.4" lengthAdjust="spacingAndGlyphs" style="stroke-width:0.32px">p53</text>
<text x="478.20" y="100.70" font-size="6.6" text-anchor="start" font-weight="normal" fill="#1a1a1a" textLength="34.4" lengthAdjust="spacingAndGlyphs" style="stroke-width:0.32px">S6-pS235/236</text>
<text x="478.20" y="114.10" font-size="6.6" text-anchor="start" font-weight="normal" fill="#1a1a1a" textLength="35.6" lengthAdjust="spacingAndGlyphs" style="stroke-width:0.32px">P70S6K-pT389</text>
<text x="478.20" y="127.40" font-size="6.6" text-anchor="start" font-weight="normal" fill="#1a1a1a" textLength="13.2" lengthAdjust="spacingAndGlyphs" style="stroke-width:0.32px">CDC6</text>
<text x="478.20" y="140.90" font-size="6.6" text-anchor="start" font-weight="normal" fill="#1a1a1a" textLength="12.8" lengthAdjust="spacingAndGlyphs" style="stroke-width:0.32px">CDT1</text>
<rect x="306.70" y="62.5" width="21.24" height="1.6" fill="#e8141c"/>
<rect x="327.94" y="62.5" width="21.24" height="1.6" fill="#111111"/>
<rect x="349.18" y="62.5" width="21.24" height="1.6" fill="#cfcfcf"/>
<rect x="370.41" y="62.5" width="21.24" height="1.6" fill="#f5e21a"/>
<rect x="391.65" y="62.5" width="21.24" height="1.6" fill="#2a3b9c"/>
<rect x="412.89" y="62.5" width="21.24" height="1.6" fill="#35b04a"/>
<rect x="434.12" y="62.5" width="21.24" height="1.6" fill="#a23a9c"/>
<rect x="455.36" y="62.5" width="21.24" height="1.6" fill="#5bc8e8"/>
<text x="326.80" y="32.40" font-size="7.6" text-anchor="middle" font-weight="bold" fill="#111" >JVM2</text>
<path d="M315.50,41 V37.3 H337.90 V41 M326.70,37.3 V35.2" fill="none" stroke="#222" stroke-width="0.9"/>
<text x="316.00" y="49.60" font-size="7.0" text-anchor="middle" font-weight="normal" fill="#1a1a1a" >Cntr</text>
<text x="337.10" y="49.60" font-size="7.0" text-anchor="middle" font-weight="normal" fill="#1a1a1a" >Navt</text>
<line x1="306.70" y1="52.60" x2="325.30" y2="52.60" stroke="#222" stroke-width="0.9" />
<line x1="326.90" y1="52.60" x2="347.30" y2="52.60" stroke="#222" stroke-width="0.9" />
<text x="309.24" y="60.90" font-size="6.2" text-anchor="middle" font-weight="normal" fill="#1a1a1a" >3</text>
<text x="316.62" y="60.90" font-size="6.2" text-anchor="middle" font-weight="normal" fill="#1a1a1a" >8</text>
<text x="323.70" y="60.90" font-size="6.2" text-anchor="middle" font-weight="normal" fill="#1a1a1a" >24</text>
<text x="330.48" y="60.90" font-size="6.2" text-anchor="middle" font-weight="normal" fill="#1a1a1a" >3</text>
<text x="337.86" y="60.90" font-size="6.2" text-anchor="middle" font-weight="normal" fill="#1a1a1a" >8</text>
<text x="344.94" y="60.90" font-size="6.2" text-anchor="middle" font-weight="normal" fill="#1a1a1a" >24</text>
<text x="369.30" y="32.40" font-size="7.6" text-anchor="middle" font-weight="bold" fill="#111" >Z138</text>
<path d="M358.20,41 V37.3 H380.60 V41 M369.40,37.3 V35.2" fill="none" stroke="#222" stroke-width="0.9"/>
<text x="358.48" y="49.60" font-size="7.0" text-anchor="middle" font-weight="normal" fill="#1a1a1a" >Cntr</text>
<text x="379.58" y="49.60" font-size="7.0" text-anchor="middle" font-weight="normal" fill="#1a1a1a" >Navt</text>
<line x1="349.18" y1="52.60" x2="367.78" y2="52.60" stroke="#222" stroke-width="0.9" />
<line x1="369.38" y1="52.60" x2="389.78" y2="52.60" stroke="#222" stroke-width="0.9" />
<text x="351.71" y="60.90" font-size="6.2" text-anchor="middle" font-weight="normal" fill="#1a1a1a" >3</text>
<text x="359.09" y="60.90" font-size="6.2" text-anchor="middle" font-weight="normal" fill="#1a1a1a" >8</text>
<text x="366.17" y="60.90" font-size="6.2" text-anchor="middle" font-weight="normal" fill="#1a1a1a" >24</text>
<text x="372.95" y="60.90" font-size="6.2" text-anchor="middle" font-weight="normal" fill="#1a1a1a" >3</text>
<text x="380.33" y="60.90" font-size="6.2" text-anchor="middle" font-weight="normal" fill="#1a1a1a" >8</text>
<text x="387.41" y="60.90" font-size="6.2" text-anchor="middle" font-weight="normal" fill="#1a1a1a" >24</text>
<text x="411.00" y="32.40" font-size="7.6" text-anchor="middle" font-weight="bold" fill="#111" >TC389</text>
<path d="M399.90,41 V37.3 H422.30 V41 M411.10,37.3 V35.2" fill="none" stroke="#222" stroke-width="0.9"/>
<text x="400.96" y="49.60" font-size="7.0" text-anchor="middle" font-weight="normal" fill="#1a1a1a" >Cntr</text>
<text x="422.06" y="49.60" font-size="7.0" text-anchor="middle" font-weight="normal" fill="#1a1a1a" >Navt</text>
<line x1="391.66" y1="52.60" x2="410.26" y2="52.60" stroke="#222" stroke-width="0.9" />
<line x1="411.86" y1="52.60" x2="432.26" y2="52.60" stroke="#222" stroke-width="0.9" />
<text x="394.19" y="60.90" font-size="6.2" text-anchor="middle" font-weight="normal" fill="#1a1a1a" >3</text>
<text x="401.57" y="60.90" font-size="6.2" text-anchor="middle" font-weight="normal" fill="#1a1a1a" >8</text>
<text x="408.65" y="60.90" font-size="6.2" text-anchor="middle" font-weight="normal" fill="#1a1a1a" >24</text>
<text x="415.43" y="60.90" font-size="6.2" text-anchor="middle" font-weight="normal" fill="#1a1a1a" >3</text>
<text x="422.81" y="60.90" font-size="6.2" text-anchor="middle" font-weight="normal" fill="#1a1a1a" >8</text>
<text x="429.89" y="60.90" font-size="6.2" text-anchor="middle" font-weight="normal" fill="#1a1a1a" >24</text>
<text x="453.60" y="32.40" font-size="7.6" text-anchor="middle" font-weight="bold" fill="#111" >TC526</text>
<path d="M442.40,41 V37.3 H464.80 V41 M453.60,37.3 V35.2" fill="none" stroke="#222" stroke-width="0.9"/>
<text x="443.44" y="49.60" font-size="7.0" text-anchor="middle" font-weight="normal" fill="#1a1a1a" >Cntr</text>
<text x="464.54" y="49.60" font-size="7.0" text-anchor="middle" font-weight="normal" fill="#1a1a1a" >Navt</text>
<line x1="434.14" y1="52.60" x2="452.74" y2="52.60" stroke="#222" stroke-width="0.9" />
<line x1="454.34" y1="52.60" x2="474.74" y2="52.60" stroke="#222" stroke-width="0.9" />
<text x="436.66" y="60.90" font-size="6.2" text-anchor="middle" font-weight="normal" fill="#1a1a1a" >3</text>
<text x="444.04" y="60.90" font-size="6.2" text-anchor="middle" font-weight="normal" fill="#1a1a1a" >8</text>
<text x="451.12" y="60.90" font-size="6.2" text-anchor="middle" font-weight="normal" fill="#1a1a1a" >24</text>
<text x="457.90" y="60.90" font-size="6.2" text-anchor="middle" font-weight="normal" fill="#1a1a1a" >3</text>
<text x="465.28" y="60.90" font-size="6.2" text-anchor="middle" font-weight="normal" fill="#1a1a1a" >8</text>
<text x="472.36" y="60.90" font-size="6.2" text-anchor="middle" font-weight="normal" fill="#1a1a1a" >24</text>
<text x="477.20" y="60.90" font-size="6.2" text-anchor="start" font-weight="normal" fill="#1a1a1a" >h</text>
<path d="M306.7,71.83 H304.9 V84.88 H306.7 M306.7,124.03 H305.5 V137.07 H306.7 M306.7,110.97 H303.6 V130.55 H305.5 M306.7,97.92 H302.4 V120.76 H303.6 M304.9,78.35 H300.7 V109.34 H302.4" fill="none" stroke="#8a8a8a" stroke-width="0.9"/>
<defs><linearGradient id="lg" x1="0" x2="1" y1="0" y2="0"><stop offset="0" stop-color="#3a4db0"/><stop offset="0.5" stop-color="#ffffff"/><stop offset="1" stop-color="#ee1a1a"/></linearGradient></defs>
<rect x="418" y="151.2" width="54.8" height="7.3" fill="url(#lg)"/>
<text x="393.60" y="158.10" font-size="7.6" text-anchor="start" font-weight="bold" fill="#111" >Log2</text>
<line x1="418.80" y1="158.50" x2="418.80" y2="160.40" stroke="#222" stroke-width="0.8" />
<text x="415.20" y="169.70" font-size="7.9" text-anchor="middle" font-weight="normal" fill="#1a1a1a" >−1.0</text>
<line x1="432.00" y1="158.50" x2="432.00" y2="160.40" stroke="#222" stroke-width="0.8" />
<text x="432.20" y="169.70" font-size="7.9" text-anchor="middle" font-weight="normal" fill="#1a1a1a" >−0.5</text>
<line x1="445.20" y1="158.50" x2="445.20" y2="160.40" stroke="#222" stroke-width="0.8" />
<text x="445.40" y="169.70" font-size="7.9" text-anchor="middle" font-weight="normal" fill="#1a1a1a" >0</text>
<line x1="458.40" y1="158.50" x2="458.40" y2="160.40" stroke="#222" stroke-width="0.8" />
<text x="458.40" y="169.70" font-size="7.9" text-anchor="middle" font-weight="normal" fill="#1a1a1a" >0.5</text>
<line x1="471.60" y1="158.50" x2="471.60" y2="160.40" stroke="#222" stroke-width="0.8" />
<text x="472.40" y="169.70" font-size="7.9" text-anchor="middle" font-weight="normal" fill="#1a1a1a" >1.0</text>
<text transform="translate(47.40,240.8) rotate(-90) scale(1.02,1.15)" font-size="7.2" fill="#1a1a1a" style="stroke-width:0.25px">Control</text>
<text transform="translate(60.90,240.8) rotate(-90) scale(1.02,1.15)" font-size="7.2" fill="#1a1a1a" style="stroke-width:0.25px">Navt 0.1</text>
<text transform="translate(74.50,240.8) rotate(-90) scale(1.02,1.15)" font-size="7.2" fill="#1a1a1a" style="stroke-width:0.25px">Navt 1</text>
<text transform="translate(87.90,240.8) rotate(-90) scale(1.02,1.15)" font-size="7.2" fill="#1a1a1a" style="stroke-width:0.25px">Navt 10</text>
<text transform="translate(100.10,240.8) rotate(-90) scale(1.02,1.15)" font-size="7.2" fill="#1a1a1a" style="stroke-width:0.25px">Idasa 0.1</text>
<text transform="translate(114.10,240.8) rotate(-90) scale(1.02,1.15)" font-size="7.2" fill="#1a1a1a" style="stroke-width:0.25px">Idasa 1</text>
<text transform="translate(128.50,240.8) rotate(-90) scale(1.02,1.15)" font-size="7.2" fill="#1a1a1a" style="stroke-width:0.25px">Control</text>
<text transform="translate(141.30,240.8) rotate(-90) scale(1.02,1.15)" font-size="7.2" fill="#1a1a1a" style="stroke-width:0.25px">Navt 0.1</text>
<text transform="translate(154.10,240.8) rotate(-90) scale(1.02,1.15)" font-size="7.2" fill="#1a1a1a" style="stroke-width:0.25px">Navt 1</text>
<text transform="translate(166.90,240.8) rotate(-90) scale(1.02,1.15)" font-size="7.2" fill="#1a1a1a" style="stroke-width:0.25px">Navt 10</text>
<text transform="translate(180.10,240.8) rotate(-90) scale(1.02,1.15)" font-size="7.2" fill="#1a1a1a" style="stroke-width:0.25px">Idasa 0.1</text>
<text transform="translate(192.90,240.8) rotate(-90) scale(1.02,1.15)" font-size="7.2" fill="#1a1a1a" style="stroke-width:0.25px">Idasa 1</text>
<text transform="translate(215.50,240.8) rotate(-90) scale(1.02,1.15)" font-size="7.2" fill="#1a1a1a" style="stroke-width:0.25px">Control</text>
<text transform="translate(229.50,240.8) rotate(-90) scale(1.02,1.15)" font-size="7.2" fill="#1a1a1a" style="stroke-width:0.25px">Navt 0.1</text>
<text transform="translate(243.70,240.8) rotate(-90) scale(1.02,1.15)" font-size="7.2" fill="#1a1a1a" style="stroke-width:0.25px">Navt 1</text>
<text transform="translate(257.30,240.8) rotate(-90) scale(1.02,1.15)" font-size="7.2" fill="#1a1a1a" style="stroke-width:0.25px">Navt 10</text>
<text transform="translate(270.50,240.8) rotate(-90) scale(1.02,1.15)" font-size="7.2" fill="#1a1a1a" style="stroke-width:0.25px">Idasa 0.1</text>
<text transform="translate(284.10,240.8) rotate(-90) scale(1.02,1.15)" font-size="7.2" fill="#1a1a1a" style="stroke-width:0.25px">Idasa 1</text>
<text transform="translate(298.30,240.8) rotate(-90) scale(1.02,1.15)" font-size="7.2" fill="#1a1a1a" style="stroke-width:0.25px">Control</text>
<text transform="translate(310.90,240.8) rotate(-90) scale(1.02,1.15)" font-size="7.2" fill="#1a1a1a" style="stroke-width:0.25px">Navt 0.1</text>
<text transform="translate(323.70,240.8) rotate(-90) scale(1.02,1.15)" font-size="7.2" fill="#1a1a1a" style="stroke-width:0.25px">Navt 1</text>
<text transform="translate(336.50,240.8) rotate(-90) scale(1.02,1.15)" font-size="7.2" fill="#1a1a1a" style="stroke-width:0.25px">Navt 10</text>
<text transform="translate(349.50,240.8) rotate(-90) scale(1.02,1.15)" font-size="7.2" fill="#1a1a1a" style="stroke-width:0.25px">Idasa 0.1</text>
<text transform="translate(362.30,240.8) rotate(-90) scale(1.02,1.15)" font-size="7.2" fill="#1a1a1a" style="stroke-width:0.25px">Idasa 1</text>
<line x1="39.30" y1="207.60" x2="116.30" y2="207.60" stroke="#333" stroke-width="1.0" />
<text x="77.80" y="203.90" font-size="9.2" text-anchor="middle" font-weight="normal" fill="#1a1a1a" >Raji</text>
<line x1="119.50" y1="207.60" x2="197.30" y2="207.60" stroke="#333" stroke-width="1.0" />
<text x="158.40" y="203.90" font-size="9.2" text-anchor="middle" font-weight="normal" fill="#1a1a1a" >TC526</text>
<line x1="206.20" y1="207.60" x2="284.00" y2="207.60" stroke="#333" stroke-width="1.0" />
<text x="245.10" y="203.90" font-size="9.2" text-anchor="middle" font-weight="normal" fill="#1a1a1a" >JVM2</text>
<line x1="286.90" y1="207.60" x2="364.80" y2="207.60" stroke="#333" stroke-width="1.0" />
<text x="325.85" y="203.90" font-size="9.2" text-anchor="middle" font-weight="normal" fill="#1a1a1a" >Z138</text>
<text x="35.20" y="249.00" font-size="7.8" text-anchor="end" font-weight="normal" fill="#1a1a1a" style="stroke-width:0.3px">p53</text>
<rect x="37.3" y="242.0" width="163.3" height="11.00" fill="#dadada"/>
<text x="35.20" y="261.60" font-size="7.8" text-anchor="end" font-weight="normal" fill="#1a1a1a" style="stroke-width:0.3px">p21</text>
<rect x="37.3" y="254.2" width="163.3" height="10.80" fill="#dfdfdf"/>
<text x="35.20" y="273.50" font-size="7.8" text-anchor="end" font-weight="normal" fill="#1a1a1a" style="stroke-width:0.3px">Puma</text>
<rect x="37.3" y="266.3" width="163.3" height="10.30" fill="#e6e6e6"/>
<text x="35.20" y="285.40" font-size="7.8" text-anchor="end" font-weight="normal" fill="#1a1a1a" style="stroke-width:0.3px">Bax</text>
<rect x="37.3" y="277.8" width="163.3" height="11.20" fill="#e7e7e7"/>
<text x="35.20" y="297.40" font-size="7.8" text-anchor="end" font-weight="normal" fill="#1a1a1a" style="stroke-width:0.3px">LMP1</text>
<rect x="37.3" y="290.2" width="163.3" height="9.40" fill="#e0e0e0"/>
<text x="35.20" y="309.20" font-size="7.8" text-anchor="end" font-weight="normal" fill="#1a1a1a" style="stroke-width:0.3px">BCL6</text>
<rect x="37.3" y="300.9" width="163.3" height="10.40" fill="#dcdcdc"/>
<text x="35.20" y="320.00" font-size="7.8" text-anchor="end" font-weight="normal" fill="#1a1a1a" style="stroke-width:0.3px">GAPDH</text>
<rect x="37.3" y="313.3" width="163.3" height="8.80" fill="#e3e3e3"/>
<rect x="204.6" y="242.0" width="165.2" height="11.20" fill="#e5e5e5"/>
<rect x="204.6" y="254.5" width="165.2" height="11.50" fill="#e1e1e1"/>
<rect x="204.6" y="267.3" width="165.2" height="8.90" fill="#e4e4e4"/>
<rect x="204.6" y="277.8" width="165.2" height="10.80" fill="#e8e8e8"/>
<rect x="204.6" y="289.8" width="165.2" height="9.20" fill="#e4e4e4"/>
<rect x="204.6" y="300.3" width="165.2" height="11.70" fill="#dcdcdc"/>
<rect x="204.6" y="313.6" width="165.2" height="8.50" fill="#e0e0e0"/>
<defs><filter id="bl" x="-20%" y="-50%" width="140%" height="200%"><feGaussianBlur stdDeviation="0.6"/></filter></defs>
<g filter="url(#bl)">
<rect x="38.70" y="245.50" width="11.6" height="4.00" rx="1.5" fill="rgb(121,121,121)"/>
<rect x="52.20" y="245.50" width="11.6" height="4.00" rx="1.5" fill="rgb(121,121,121)"/>
<rect x="65.80" y="245.50" width="11.6" height="4.00" rx="1.5" fill="rgb(125,125,125)"/>
<rect x="79.20" y="245.50" width="11.6" height="4.00" rx="1.5" fill="rgb(121,121,121)"/>
<rect x="91.40" y="245.50" width="11.6" height="4.00" rx="1.5" fill="rgb(125,125,125)"/>
<rect x="105.40" y="245.50" width="11.6" height="4.00" rx="1.5" fill="rgb(125,125,125)"/>
<rect x="119.80" y="245.50" width="11.6" height="4.00" rx="1.5" fill="rgb(185,185,185)"/>
<rect x="132.60" y="245.50" width="11.6" height="4.00" rx="1.5" fill="rgb(181,181,181)"/>
<rect x="145.40" y="245.50" width="11.6" height="4.00" rx="1.5" fill="rgb(101,101,101)"/>
<rect x="158.20" y="245.50" width="11.6" height="4.00" rx="1.5" fill="rgb(105,105,105)"/>
<rect x="171.40" y="245.50" width="11.6" height="4.00" rx="1.5" fill="rgb(114,114,114)"/>
<rect x="184.20" y="245.50" width="11.6" height="4.00" rx="1.5" fill="rgb(129,129,129)"/>
<rect x="206.80" y="246.20" width="11.6" height="4.00" rx="1.5" fill="rgb(145,145,145)"/>
<rect x="220.80" y="246.20" width="11.6" height="4.00" rx="1.5" fill="rgb(145,145,145)"/>
<rect x="235.00" y="246.20" width="11.6" height="4.00" rx="1.5" fill="rgb(81,81,81)"/>
<rect x="248.60" y="246.20" width="11.6" height="4.00" rx="1.5" fill="rgb(81,81,81)"/>
<rect x="261.80" y="246.20" width="11.6" height="4.00" rx="1.5" fill="rgb(95,95,95)"/>
<rect x="275.40" y="246.20" width="11.6" height="4.00" rx="1.5" fill="rgb(75,75,75)"/>
<rect x="289.60" y="246.20" width="11.6" height="4.00" rx="1.5" fill="rgb(201,201,201)"/>
<rect x="302.20" y="246.20" width="11.6" height="4.00" rx="1.5" fill="rgb(201,201,201)"/>
<rect x="315.00" y="246.20" width="11.6" height="4.00" rx="1.5" fill="rgb(201,201,201)"/>
<rect x="327.80" y="246.20" width="11.6" height="4.00" rx="1.5" fill="rgb(201,201,201)"/>
<rect x="340.80" y="246.20" width="11.6" height="4.00" rx="1.5" fill="rgb(197,197,197)"/>
<rect x="353.60" y="246.20" width="11.6" height="4.00" rx="1.5" fill="rgb(205,205,205)"/>
<rect x="119.80" y="257.10" width="11.6" height="5.00" rx="1.5" fill="rgb(215,215,215)"/>
<rect x="132.60" y="257.10" width="11.6" height="5.00" rx="1.5" fill="rgb(209,209,209)"/>
<rect x="145.40" y="257.10" width="11.6" height="5.00" rx="1.5" fill="rgb(145,145,145)"/>
<rect x="158.20" y="257.10" width="11.6" height="5.00" rx="1.5" fill="rgb(145,145,145)"/>
<rect x="171.40" y="257.10" width="11.6" height="5.00" rx="1.5" fill="rgb(141,141,141)"/>
<rect x="184.20" y="257.10" width="11.6" height="5.00" rx="1.5" fill="rgb(155,155,155)"/>
<rect x="206.80" y="257.30" width="11.6" height="5.00" rx="1.5" fill="rgb(205,205,205)"/>
<rect x="220.80" y="257.30" width="11.6" height="5.00" rx="1.5" fill="rgb(205,205,205)"/>
<rect x="235.00" y="257.30" width="11.6" height="5.00" rx="1.5" fill="rgb(105,105,105)"/>
<rect x="248.60" y="257.30" width="11.6" height="5.00" rx="1.5" fill="rgb(114,114,114)"/>
<rect x="261.80" y="257.30" width="11.6" height="5.00" rx="1.5" fill="rgb(125,125,125)"/>
<rect x="275.40" y="257.30" width="11.6" height="5.00" rx="1.5" fill="rgb(95,95,95)"/>
<rect x="289.60" y="257.30" width="11.6" height="5.00" rx="1.5" fill="rgb(219,219,219)"/>
<rect x="302.20" y="257.30" width="11.6" height="5.00" rx="1.5" fill="rgb(219,219,219)"/>
<rect x="315.00" y="257.30" width="11.6" height="5.00" rx="1.5" fill="rgb(213,213,213)"/>
<rect x="327.80" y="257.30" width="11.6" height="5.00" rx="1.5" fill="rgb(213,213,213)"/>
<rect x="340.80" y="257.30" width="11.6" height="5.00" rx="1.5" fill="rgb(165,165,165)"/>
<rect x="353.60" y="257.30" width="11.6" height="5.00" rx="1.5" fill="rgb(195,195,195)"/>
<rect x="38.70" y="270.50" width="11.6" height="2.20" rx="1.5" fill="rgb(55,55,55)"/>
<rect x="52.20" y="270.50" width="11.6" height="2.20" rx="1.5" fill="rgb(125,125,125)"/>
<rect x="65.80" y="270.50" width="11.6" height="2.20" rx="1.5" fill="rgb(155,155,155)"/>
<rect x="79.20" y="270.50" width="11.6" height="2.20" rx="1.5" fill="rgb(165,165,165)"/>
<rect x="91.40" y="270.50" width="11.6" height="2.20" rx="1.5" fill="rgb(155,155,155)"/>
<rect x="105.40" y="270.50" width="11.6" height="2.20" rx="1.5" fill="rgb(145,145,145)"/>
<rect x="119.80" y="270.50" width="11.6" height="2.20" rx="1.5" fill="rgb(145,145,145)"/>
<rect x="132.60" y="270.50" width="11.6" height="2.20" rx="1.5" fill="rgb(155,155,155)"/>
<rect x="145.40" y="270.50" width="11.6" height="2.20" rx="1.5" fill="rgb(185,185,185)"/>
<rect x="158.20" y="270.50" width="11.6" height="2.20" rx="1.5" fill="rgb(195,195,195)"/>
<rect x="171.40" y="270.50" width="11.6" height="2.20" rx="1.5" fill="rgb(75,75,75)"/>
<rect x="184.20" y="270.50" width="11.6" height="2.20" rx="1.5" fill="rgb(165,165,165)"/>
<rect x="206.80" y="270.30" width="11.6" height="2.20" rx="1.5" fill="rgb(95,95,95)"/>
<rect x="220.80" y="270.30" width="11.6" height="2.20" rx="1.5" fill="rgb(105,105,105)"/>
<rect x="235.00" y="270.30" width="11.6" height="2.20" rx="1.5" fill="rgb(125,125,125)"/>
<rect x="248.60" y="270.30" width="11.6" height="2.20" rx="1.5" fill="rgb(114,114,114)"/>
<rect x="261.80" y="270.30" width="11.6" height="2.20" rx="1.5" fill="rgb(95,95,95)"/>
<rect x="275.40" y="270.30" width="11.6" height="2.20" rx="1.5" fill="rgb(105,105,105)"/>
<rect x="289.60" y="270.30" width="11.6" height="2.20" rx="1.5" fill="rgb(165,165,165)"/>
<rect x="302.20" y="270.30" width="11.6" height="2.20" rx="1.5" fill="rgb(165,165,165)"/>
<rect x="315.00" y="270.30" width="11.6" height="2.20" rx="1.5" fill="rgb(219,219,219)"/>
<rect x="327.80" y="270.30" width="11.6" height="2.20" rx="1.5" fill="rgb(219,219,219)"/>
<rect x="340.80" y="270.30" width="11.6" height="2.20" rx="1.5" fill="rgb(219,219,219)"/>
<rect x="353.60" y="270.30" width="11.6" height="2.20" rx="1.5" fill="rgb(213,213,213)"/>
<rect x="38.70" y="281.50" width="11.6" height="3.40" rx="1.5" fill="rgb(205,205,205)"/>
<rect x="52.20" y="281.50" width="11.6" height="3.40" rx="1.5" fill="rgb(201,201,201)"/>
<rect x="65.80" y="281.50" width="11.6" height="3.40" rx="1.5" fill="rgb(197,197,197)"/>
<rect x="79.20" y="281.50" width="11.6" height="3.40" rx="1.5" fill="rgb(195,195,195)"/>
<rect x="91.40" y="281.50" width="11.6" height="3.40" rx="1.5" fill="rgb(195,195,195)"/>
<rect x="105.40" y="281.50" width="11.6" height="3.40" rx="1.5" fill="rgb(195,195,195)"/>
<rect x="119.80" y="281.50" width="11.6" height="3.40" rx="1.5" fill="rgb(159,159,159)"/>
<rect x="132.60" y="281.50" width="11.6" height="3.40" rx="1.5" fill="rgb(159,159,159)"/>
<rect x="145.40" y="281.50" width="11.6" height="3.40" rx="1.5" fill="rgb(145,145,145)"/>
<rect x="158.20" y="281.50" width="11.6" height="3.40" rx="1.5" fill="rgb(145,145,145)"/>
<rect x="171.40" y="281.50" width="11.6" height="3.40" rx="1.5" fill="rgb(121,121,121)"/>
<rect x="184.20" y="281.50" width="11.6" height="3.40" rx="1.5" fill="rgb(145,145,145)"/>
<rect x="206.80" y="282.10" width="11.6" height="3.40" rx="1.5" fill="rgb(41,41,41)"/>
<rect x="220.80" y="282.10" width="11.6" height="3.40" rx="1.5" fill="rgb(41,41,41)"/>
<rect x="235.00" y="282.10" width="11.6" height="3.40" rx="1.5" fill="rgb(37,37,37)"/>
<rect x="248.60" y="282.10" width="11.6" height="3.40" rx="1.5" fill="rgb(33,33,33)"/>
<rect x="261.80" y="282.10" width="11.6" height="3.40" rx="1.5" fill="rgb(37,37,37)"/>
<rect x="275.40" y="282.10" width="11.6" height="3.40" rx="1.5" fill="rgb(37,37,37)"/>
<rect x="289.60" y="282.10" width="11.6" height="3.40" rx="1.5" fill="rgb(201,201,201)"/>
<rect x="302.20" y="282.10" width="11.6" height="3.40" rx="1.5" fill="rgb(193,193,193)"/>
<rect x="315.00" y="282.10" width="11.6" height="3.40" rx="1.5" fill="rgb(165,165,165)"/>
<rect x="327.80" y="282.10" width="11.6" height="3.40" rx="1.5" fill="rgb(157,157,157)"/>
<rect x="340.80" y="282.10" width="11.6" height="3.40" rx="1.5" fill="rgb(193,193,193)"/>
<rect x="353.60" y="282.10" width="11.6" height="3.40" rx="1.5" fill="rgb(201,201,201)"/>
<rect x="38.70" y="292.40" width="11.6" height="2.40" rx="1.5" fill="rgb(109,109,109)"/>
<rect x="52.20" y="292.40" width="11.6" height="2.40" rx="1.5" fill="rgb(109,109,109)"/>
<rect x="65.80" y="292.40" width="11.6" height="2.40" rx="1.5" fill="rgb(165,165,165)"/>
<rect x="79.20" y="292.40" width="11.6" height="2.40" rx="1.5" fill="rgb(125,125,125)"/>
<rect x="91.40" y="292.40" width="11.6" height="2.40" rx="1.5" fill="rgb(129,129,129)"/>
<rect x="105.40" y="292.40" width="11.6" height="2.40" rx="1.5" fill="rgb(129,129,129)"/>
<rect x="119.80" y="292.40" width="11.6" height="2.40" rx="1.5" fill="rgb(155,155,155)"/>
<rect x="132.60" y="292.40" width="11.6" height="2.40" rx="1.5" fill="rgb(155,155,155)"/>
<rect x="145.40" y="292.40" width="11.6" height="2.40" rx="1.5" fill="rgb(114,114,114)"/>
<rect x="158.20" y="292.40" width="11.6" height="2.40" rx="1.5" fill="rgb(125,125,125)"/>
<rect x="171.40" y="292.40" width="11.6" height="2.40" rx="1.5" fill="rgb(114,114,114)"/>
<rect x="184.20" y="292.40" width="11.6" height="2.40" rx="1.5" fill="rgb(125,125,125)"/>
<rect x="206.80" y="293.60" width="11.6" height="2.40" rx="1.5" fill="rgb(165,165,165)"/>
<rect x="220.80" y="293.60" width="11.6" height="2.40" rx="1.5" fill="rgb(145,145,145)"/>
<rect x="235.00" y="293.60" width="11.6" height="2.40" rx="1.5" fill="rgb(145,145,145)"/>
<rect x="248.60" y="293.60" width="11.6" height="2.40" rx="1.5" fill="rgb(165,165,165)"/>
<rect x="261.80" y="293.60" width="11.6" height="2.40" rx="1.5" fill="rgb(145,145,145)"/>
<rect x="275.40" y="293.60" width="11.6" height="2.40" rx="1.5" fill="rgb(135,135,135)"/>
<rect x="289.60" y="293.60" width="11.6" height="2.40" rx="1.5" fill="rgb(185,185,185)"/>
<rect x="302.20" y="293.60" width="11.6" height="2.40" rx="1.5" fill="rgb(185,185,185)"/>
<rect x="315.00" y="293.60" width="11.6" height="2.40" rx="1.5" fill="rgb(175,175,175)"/>
<rect x="327.80" y="293.60" width="11.6" height="2.40" rx="1.5" fill="rgb(165,165,165)"/>
<rect x="340.80" y="293.60" width="11.6" height="2.40" rx="1.5" fill="rgb(185,185,185)"/>
<rect x="353.60" y="293.60" width="11.6" height="2.40" rx="1.5" fill="rgb(185,185,185)"/>
<rect x="38.70" y="302.75" width="11.6" height="6.50" rx="1.5" fill="rgb(161,161,161)"/>
<rect x="52.20" y="302.75" width="11.6" height="6.50" rx="1.5" fill="rgb(161,161,161)"/>
<rect x="65.80" y="302.75" width="11.6" height="6.50" rx="1.5" fill="rgb(195,195,195)"/>
<rect x="79.20" y="302.75" width="11.6" height="6.50" rx="1.5" fill="rgb(161,161,161)"/>
<rect x="91.40" y="302.75" width="11.6" height="6.50" rx="1.5" fill="rgb(169,169,169)"/>
<rect x="105.40" y="302.75" width="11.6" height="6.50" rx="1.5" fill="rgb(165,165,165)"/>
<rect x="119.80" y="302.75" width="11.6" height="6.50" rx="1.5" fill="rgb(219,219,219)"/>
<rect x="38.70" y="315.80" width="11.6" height="2.20" rx="1.5" fill="rgb(85,85,85)"/>
<rect x="52.20" y="315.80" width="11.6" height="2.20" rx="1.5" fill="rgb(95,95,95)"/>
<rect x="65.80" y="315.80" width="11.6" height="2.20" rx="1.5" fill="rgb(105,105,105)"/>
<rect x="79.20" y="315.80" width="11.6" height="2.20" rx="1.5" fill="rgb(95,95,95)"/>
<rect x="91.40" y="315.80" width="11.6" height="2.20" rx="1.5" fill="rgb(105,105,105)"/>
<rect x="105.40" y="315.80" width="11.6" height="2.20" rx="1.5" fill="rgb(95,95,95)"/>
<rect x="119.80" y="315.80" width="11.6" height="2.20" rx="1.5" fill="rgb(65,65,65)"/>
<rect x="132.60" y="315.80" width="11.6" height="2.20" rx="1.5" fill="rgb(65,65,65)"/>
<rect x="145.40" y="315.80" width="11.6" height="2.20" rx="1.5" fill="rgb(65,65,65)"/>
<rect x="158.20" y="315.80" width="11.6" height="2.20" rx="1.5" fill="rgb(75,75,75)"/>
<rect x="171.40" y="315.80" width="11.6" height="2.20" rx="1.5" fill="rgb(65,65,65)"/>
<rect x="184.20" y="315.80" width="11.6" height="2.20" rx="1.5" fill="rgb(75,75,75)"/>
<rect x="41.9" y="306.3" width="1.2" height="1.2" fill="rgb(110,110,110)"/>
<rect x="43.2" y="306.7" width="1.2" height="1.2" fill="rgb(110,110,110)"/>
<rect x="45.8" y="303.0" width="1.2" height="1.2" fill="rgb(110,110,110)"/>
<rect x="39.6" y="308.4" width="1.2" height="1.2" fill="rgb(110,110,110)"/>
<rect x="42.1" y="304.1" width="1.2" height="1.2" fill="rgb(110,110,110)"/>
<rect x="63.0" y="305.8" width="1.2" height="1.2" fill="rgb(110,110,110)"/>
<rect x="61.4" y="305.8" width="1.2" height="1.2" fill="rgb(110,110,110)"/>
<rect x="59.4" y="303.6" width="1.2" height="1.2" fill="rgb(110,110,110)"/>
<rect x="59.3" y="308.6" width="1.2" height="1.2" fill="rgb(110,110,110)"/>
<rect x="58.2" y="307.7" width="1.2" height="1.2" fill="rgb(110,110,110)"/>
<rect x="73.3" y="302.9" width="1.2" height="1.2" fill="rgb(110,110,110)"/>
<rect x="74.2" y="306.6" width="1.2" height="1.2" fill="rgb(110,110,110)"/>
<rect x="69.6" y="302.7" width="1.2" height="1.2" fill="rgb(110,110,110)"/>
<rect x="75.3" y="305.8" width="1.2" height="1.2" fill="rgb(110,110,110)"/>
<rect x="73.8" y="308.7" width="1.2" height="1.2" fill="rgb(110,110,110)"/>
<rect x="87.1" y="308.9" width="1.2" height="1.2" fill="rgb(110,110,110)"/>
<rect x="83.9" y="308.1" width="1.2" height="1.2" fill="rgb(110,110,110)"/>
<rect x="84.4" y="309.0" width="1.2" height="1.2" fill="rgb(110,110,110)"/>
<rect x="88.8" y="303.2" width="1.2" height="1.2" fill="rgb(110,110,110)"/>
<rect x="81.4" y="304.0" width="1.2" height="1.2" fill="rgb(110,110,110)"/>
<rect x="101.9" y="305.6" width="1.2" height="1.2" fill="rgb(110,110,110)"/>
<rect x="98.5" y="304.6" width="1.2" height="1.2" fill="rgb(110,110,110)"/>
<rect x="97.3" y="305.2" width="1.2" height="1.2" fill="rgb(110,110,110)"/>
<rect x="95.7" y="306.6" width="1.2" height="1.2" fill="rgb(110,110,110)"/>
<rect x="98.0" y="308.8" width="1.2" height="1.2" fill="rgb(110,110,110)"/>
<rect x="113.0" y="309.0" width="1.2" height="1.2" fill="rgb(110,110,110)"/>
<rect x="114.8" y="309.4" width="1.2" height="1.2" fill="rgb(110,110,110)"/>
<rect x="112.9" y="303.6" width="1.2" height="1.2" fill="rgb(110,110,110)"/>
<rect x="114.8" y="309.3" width="1.2" height="1.2" fill="rgb(110,110,110)"/>
<rect x="115.2" y="306.5" width="1.2" height="1.2" fill="rgb(110,110,110)"/>
<rect x="206.80" y="290.8" width="11.6" height="1.4" fill="rgb(190,190,190)"/>
<rect x="206.80" y="314.6" width="11.6" height="1.3" fill="rgb(150,150,150)"/>
<rect x="220.80" y="290.8" width="11.6" height="1.4" fill="rgb(190,190,190)"/>
<rect x="220.80" y="314.6" width="11.6" height="1.3" fill="rgb(150,150,150)"/>
<rect x="235.00" y="290.8" width="11.6" height="1.4" fill="rgb(190,190,190)"/>
<rect x="235.00" y="314.6" width="11.6" height="1.3" fill="rgb(150,150,150)"/>
<rect x="248.60" y="290.8" width="11.6" height="1.4" fill="rgb(190,190,190)"/>
<rect x="248.60" y="314.6" width="11.6" height="1.3" fill="rgb(150,150,150)"/>
<rect x="261.80" y="290.8" width="11.6" height="1.4" fill="rgb(190,190,190)"/>
<rect x="261.80" y="314.6" width="11.6" height="1.3" fill="rgb(150,150,150)"/>
<rect x="275.40" y="290.8" width="11.6" height="1.4" fill="rgb(190,190,190)"/>
<rect x="275.40" y="314.6" width="11.6" height="1.3" fill="rgb(150,150,150)"/>
<rect x="289.60" y="314.6" width="11.6" height="1.5" fill="rgb(150,150,150)"/>
<rect x="289.60" y="317.4" width="11.6" height="2.0" fill="rgb(85,85,85)"/>
<rect x="302.20" y="314.6" width="11.6" height="1.5" fill="rgb(150,150,150)"/>
<rect x="302.20" y="317.4" width="11.6" height="2.0" fill="rgb(85,85,85)"/>
<rect x="315.00" y="314.6" width="11.6" height="1.5" fill="rgb(150,150,150)"/>
<rect x="315.00" y="317.4" width="11.6" height="2.0" fill="rgb(85,85,85)"/>
<rect x="327.80" y="314.6" width="11.6" height="1.5" fill="rgb(150,150,150)"/>
<rect x="327.80" y="317.4" width="11.6" height="2.0" fill="rgb(85,85,85)"/>
<rect x="340.80" y="314.6" width="11.6" height="1.5" fill="rgb(150,150,150)"/>
<rect x="340.80" y="317.4" width="11.6" height="2.0" fill="rgb(85,85,85)"/>
<rect x="353.60" y="314.6" width="11.6" height="1.5" fill="rgb(150,150,150)"/>
<rect x="353.60" y="317.4" width="11.6" height="2.0" fill="rgb(85,85,85)"/>
<rect x="206.60" y="315.9" width="12.0" height="3.6" rx="1.2" fill="rgb(25,25,25)"/>
<rect x="220.60" y="315.9" width="12.0" height="3.6" rx="1.2" fill="rgb(25,25,25)"/>
<rect x="234.80" y="315.9" width="12.0" height="3.6" rx="1.2" fill="rgb(25,25,25)"/>
<rect x="248.40" y="315.9" width="12.0" height="3.6" rx="1.2" fill="rgb(25,25,25)"/>
<rect x="261.60" y="315.9" width="12.0" height="3.6" rx="1.2" fill="rgb(25,25,25)"/>
<rect x="275.20" y="315.9" width="12.0" height="3.6" rx="1.2" fill="rgb(25,25,25)"/>
</g>
<line x1="429.30" y1="200.50" x2="429.30" y2="315.20" stroke="#1a1a1a" stroke-width="1.1" />
<line x1="428.80" y1="314.60" x2="512.00" y2="314.60" stroke="#1a1a1a" stroke-width="1.1" />
<line x1="426.40" y1="313.50" x2="429.30" y2="313.50" stroke="#1a1a1a" stroke-width="1" />
<text x="424.30" y="316.20" font-size="7.8" text-anchor="end" font-weight="normal" fill="#1a1a1a" >0.001</text>
<line x1="427.40" y1="305.91" x2="429.30" y2="305.91" stroke="#1a1a1a" stroke-width="0.8" />
<line x1="427.40" y1="301.48" x2="429.30" y2="301.48" stroke="#1a1a1a" stroke-width="0.8" />
<line x1="427.40" y1="298.33" x2="429.30" y2="298.33" stroke="#1a1a1a" stroke-width="0.8" />
<line x1="427.40" y1="295.89" x2="429.30" y2="295.89" stroke="#1a1a1a" stroke-width="0.8" />
<line x1="427.40" y1="293.89" x2="429.30" y2="293.89" stroke="#1a1a1a" stroke-width="0.8" />
<line x1="427.40" y1="292.20" x2="429.30" y2="292.20" stroke="#1a1a1a" stroke-width="0.8" />
<line x1="427.40" y1="290.74" x2="429.30" y2="290.74" stroke="#1a1a1a" stroke-width="0.8" />
<line x1="427.40" y1="289.45" x2="429.30" y2="289.45" stroke="#1a1a1a" stroke-width="0.8" />
<line x1="426.40" y1="288.30" x2="429.30" y2="288.30" stroke="#1a1a1a" stroke-width="1" />
<text x="424.30" y="291.00" font-size="7.8" text-anchor="end" font-weight="normal" fill="#1a1a1a" >0.01</text>
<line x1="427.40" y1="280.71" x2="429.30" y2="280.71" stroke="#1a1a1a" stroke-width="0.8" />
<line x1="427.40" y1="276.28" x2="429.30" y2="276.28" stroke="#1a1a1a" stroke-width="0.8" />
<line x1="427.40" y1="273.13" x2="429.30" y2="273.13" stroke="#1a1a1a" stroke-width="0.8" />
<line x1="427.40" y1="270.69" x2="429.30" y2="270.69" stroke="#1a1a1a" stroke-width="0.8" />
<line x1="427.40" y1="268.69" x2="429.30" y2="268.69" stroke="#1a1a1a" stroke-width="0.8" />
<line x1="427.40" y1="267.00" x2="429.30" y2="267.00" stroke="#1a1a1a" stroke-width="0.8" />
<line x1="427.40" y1="265.54" x2="429.30" y2="265.54" stroke="#1a1a1a" stroke-width="0.8" />
<line x1="427.40" y1="264.25" x2="429.30" y2="264.25" stroke="#1a1a1a" stroke-width="0.8" />
<line x1="426.40" y1="263.10" x2="429.30" y2="263.10" stroke="#1a1a1a" stroke-width="1" />
<text x="424.30" y="265.80" font-size="7.8" text-anchor="end" font-weight="normal" fill="#1a1a1a" >0.1</text>
<line x1="427.40" y1="255.51" x2="429.30" y2="255.51" stroke="#1a1a1a" stroke-width="0.8" />
<line x1="427.40" y1="251.08" x2="429.30" y2="251.08" stroke="#1a1a1a" stroke-width="0.8" />
<line x1="427.40" y1="247.93" x2="429.30" y2="247.93" stroke="#1a1a1a" stroke-width="0.8" />
<line x1="427.40" y1="245.49" x2="429.30" y2="245.49" stroke="#1a1a1a" stroke-width="0.8" />
<line x1="427.40" y1="243.49" x2="429.30" y2="243.49" stroke="#1a1a1a" stroke-width="0.8" />
<line x1="427.40" y1="241.80" x2="429.30" y2="241.80" stroke="#1a1a1a" stroke-width="0.8" />
<line x1="427.40" y1="240.34" x2="429.30" y2="240.34" stroke="#1a1a1a" stroke-width="0.8" />
<line x1="427.40" y1="239.05" x2="429.30" y2="239.05" stroke="#1a1a1a" stroke-width="0.8" />
<line x1="426.40" y1="237.90" x2="429.30" y2="237.90" stroke="#1a1a1a" stroke-width="1" />
<text x="424.30" y="240.60" font-size="7.8" text-anchor="end" font-weight="normal" fill="#1a1a1a" >1</text>
<line x1="427.40" y1="230.31" x2="429.30" y2="230.31" stroke="#1a1a1a" stroke-width="0.8" />
<line x1="427.40" y1="225.88" x2="429.30" y2="225.88" stroke="#1a1a1a" stroke-width="0.8" />
<line x1="427.40" y1="222.73" x2="429.30" y2="222.73" stroke="#1a1a1a" stroke-width="0.8" />
<line x1="427.40" y1="220.29" x2="429.30" y2="220.29" stroke="#1a1a1a" stroke-width="0.8" />
<line x1="427.40" y1="218.29" x2="429.30" y2="218.29" stroke="#1a1a1a" stroke-width="0.8" />
<line x1="427.40" y1="216.60" x2="429.30" y2="216.60" stroke="#1a1a1a" stroke-width="0.8" />
<line x1="427.40" y1="215.14" x2="429.30" y2="215.14" stroke="#1a1a1a" stroke-width="0.8" />
<line x1="427.40" y1="213.85" x2="429.30" y2="213.85" stroke="#1a1a1a" stroke-width="0.8" />
<line x1="426.40" y1="212.70" x2="429.30" y2="212.70" stroke="#1a1a1a" stroke-width="1" />
<text x="424.30" y="215.40" font-size="7.8" text-anchor="end" font-weight="normal" fill="#1a1a1a" >10</text>
<line x1="427.40" y1="205.11" x2="429.30" y2="205.11" stroke="#1a1a1a" stroke-width="0.8" />
<line x1="452.00" y1="314.60" x2="452.00" y2="316.60" stroke="#1a1a1a" stroke-width="1" />
<text x="452.00" y="327.80" font-size="7.8" text-anchor="middle" font-weight="normal" fill="#1a1a1a" >DLBCL</text>
<line x1="489.60" y1="314.60" x2="489.60" y2="316.60" stroke="#1a1a1a" stroke-width="1" />
<text x="489.60" y="327.80" font-size="7.8" text-anchor="middle" font-weight="normal" fill="#1a1a1a" >XABCL</text>
<text transform="translate(399.6,248.4) rotate(-90)" font-size="6.4" text-anchor="middle" fill="#1a1a1a" textLength="52" lengthAdjust="spacingAndGlyphs">BCL6/VPS29 ratio</text>
<line x1="451.80" y1="213.38" x2="451.80" y2="262.06" stroke="#888" stroke-width="1" />
<rect x="436.8" y="230.2" width="29.4" height="13.6" fill="#000"/>
<rect x="437.6" y="230.2" width="1.8" height="1.8" fill="#000"/>
<rect x="446.6" y="228.0" width="1.8" height="1.8" fill="#000"/>
<rect x="448.7" y="237.9" width="1.8" height="1.8" fill="#000"/>
<rect x="438.2" y="236.1" width="1.8" height="1.8" fill="#000"/>
<rect x="442.3" y="234.4" width="1.8" height="1.8" fill="#000"/>
<rect x="464.5" y="239.1" width="1.8" height="1.8" fill="#000"/>
<rect x="436.8" y="250.8" width="1.8" height="1.8" fill="#000"/>
<rect x="444.3" y="222.5" width="1.8" height="1.8" fill="#000"/>
<rect x="460.5" y="231.7" width="1.8" height="1.8" fill="#000"/>
<rect x="453.3" y="232.1" width="1.8" height="1.8" fill="#000"/>
<rect x="437.3" y="242.0" width="1.8" height="1.8" fill="#000"/>
<rect x="441.7" y="229.8" width="1.8" height="1.8" fill="#000"/>
<rect x="453.4" y="253.1" width="1.8" height="1.8" fill="#000"/>
<rect x="444.6" y="233.4" width="1.8" height="1.8" fill="#000"/>
<rect x="453.0" y="246.3" width="1.8" height="1.8" fill="#000"/>
<rect x="462.3" y="240.8" width="1.8" height="1.8" fill="#000"/>
<rect x="439.0" y="251.6" width="1.8" height="1.8" fill="#000"/>
<rect x="458.6" y="217.5" width="1.8" height="1.8" fill="#000"/>
<rect x="455.9" y="237.9" width="1.8" height="1.8" fill="#000"/>
<rect x="453.0" y="243.1" width="1.8" height="1.8" fill="#000"/>
<rect x="453.6" y="250.9" width="1.8" height="1.8" fill="#000"/>
<rect x="449.4" y="226.3" width="1.8" height="1.8" fill="#000"/>
<rect x="455.8" y="229.9" width="1.8" height="1.8" fill="#000"/>
<rect x="456.9" y="238.6" width="1.8" height="1.8" fill="#000"/>
<rect x="444.1" y="223.4" width="1.8" height="1.8" fill="#000"/>
<rect x="455.9" y="236.5" width="1.8" height="1.8" fill="#000"/>
<rect x="439.0" y="240.0" width="1.8" height="1.8" fill="#000"/>
<rect x="459.0" y="235.0" width="1.8" height="1.8" fill="#000"/>
<rect x="462.2" y="235.9" width="1.8" height="1.8" fill="#000"/>
<rect x="449.2" y="229.2" width="1.8" height="1.8" fill="#000"/>
<rect x="461.9" y="226.6" width="1.8" height="1.8" fill="#000"/>
<rect x="448.1" y="244.4" width="1.8" height="1.8" fill="#000"/>
<rect x="440.0" y="223.2" width="1.8" height="1.8" fill="#000"/>
<rect x="442.5" y="247.4" width="1.8" height="1.8" fill="#000"/>
<rect x="443.5" y="245.0" width="1.8" height="1.8" fill="#000"/>
<rect x="448.3" y="235.1" width="1.8" height="1.8" fill="#000"/>
<rect x="456.6" y="251.4" width="1.8" height="1.8" fill="#000"/>
<rect x="454.4" y="242.8" width="1.8" height="1.8" fill="#000"/>
<rect x="459.3" y="217.8" width="1.8" height="1.8" fill="#000"/>
<rect x="459.9" y="234.3" width="1.8" height="1.8" fill="#000"/>
<rect x="454.9" y="238.6" width="1.8" height="1.8" fill="#000"/>
<rect x="437.5" y="234.1" width="1.8" height="1.8" fill="#000"/>
<rect x="437.0" y="232.7" width="1.8" height="1.8" fill="#000"/>
<rect x="440.0" y="230.7" width="1.8" height="1.8" fill="#000"/>
<rect x="462.2" y="237.0" width="1.8" height="1.8" fill="#000"/>
<rect x="440.0" y="234.8" width="1.8" height="1.8" fill="#000"/>
<rect x="439.2" y="239.7" width="1.8" height="1.8" fill="#000"/>
<rect x="465.9" y="233.5" width="1.8" height="1.8" fill="#000"/>
<rect x="438.5" y="238.9" width="1.8" height="1.8" fill="#000"/>
<rect x="443.5" y="235.7" width="1.8" height="1.8" fill="#000"/>
<rect x="464.6" y="241.9" width="1.8" height="1.8" fill="#000"/>
<rect x="439.9" y="234.7" width="1.8" height="1.8" fill="#000"/>
<rect x="465.4" y="227.8" width="1.8" height="1.8" fill="#000"/>
<rect x="456.8" y="240.7" width="1.8" height="1.8" fill="#000"/>
<rect x="459.1" y="238.7" width="1.8" height="1.8" fill="#000"/>
<rect x="459.3" y="232.9" width="1.8" height="1.8" fill="#000"/>
<rect x="465.6" y="233.9" width="1.8" height="1.8" fill="#000"/>
<rect x="460.1" y="220.6" width="1.8" height="1.8" fill="#000"/>
<rect x="451.3" y="243.9" width="1.8" height="1.8" fill="#000"/>
<rect x="436.3" y="240.9" width="1.8" height="1.8" fill="#000"/>
<rect x="456.7" y="237.0" width="1.8" height="1.8" fill="#000"/>
<rect x="449.1" y="233.7" width="1.8" height="1.8" fill="#000"/>
<rect x="446.6" y="212.0" width="1.8" height="1.8" fill="#000"/>
<rect x="442.4" y="237.3" width="1.8" height="1.8" fill="#000"/>
<rect x="463.0" y="233.3" width="1.8" height="1.8" fill="#000"/>
<rect x="450.1" y="226.4" width="1.8" height="1.8" fill="#000"/>
<rect x="455.7" y="235.1" width="1.8" height="1.8" fill="#000"/>
<rect x="459.4" y="248.3" width="1.8" height="1.8" fill="#000"/>
<rect x="459.6" y="251.1" width="1.8" height="1.8" fill="#000"/>
<rect x="460.0" y="235.4" width="1.8" height="1.8" fill="#000"/>
<rect x="464.5" y="253.4" width="1.8" height="1.8" fill="#000"/>
<rect x="440.6" y="235.5" width="1.8" height="1.8" fill="#000"/>
<rect x="460.2" y="227.4" width="1.8" height="1.8" fill="#000"/>
<rect x="460.8" y="224.0" width="1.8" height="1.8" fill="#000"/>
<rect x="452.2" y="249.7" width="1.8" height="1.8" fill="#000"/>
<rect x="435.8" y="241.3" width="1.8" height="1.8" fill="#000"/>
<rect x="464.1" y="252.4" width="1.8" height="1.8" fill="#000"/>
<rect x="462.2" y="242.7" width="1.8" height="1.8" fill="#000"/>
<rect x="444.4" y="241.0" width="1.8" height="1.8" fill="#000"/>
<rect x="453.4" y="231.0" width="1.8" height="1.8" fill="#000"/>
<rect x="463.3" y="239.1" width="1.8" height="1.8" fill="#000"/>
<rect x="449.5" y="234.2" width="1.8" height="1.8" fill="#000"/>
<rect x="463.6" y="230.1" width="1.8" height="1.8" fill="#000"/>
<rect x="451.7" y="240.0" width="1.8" height="1.8" fill="#000"/>
<rect x="441.0" y="228.7" width="1.8" height="1.8" fill="#000"/>
<rect x="459.9" y="235.1" width="1.8" height="1.8" fill="#000"/>
<rect x="452.5" y="246.8" width="1.8" height="1.8" fill="#000"/>
<rect x="451.3" y="234.2" width="1.8" height="1.8" fill="#000"/>
<rect x="452.6" y="235.3" width="1.8" height="1.8" fill="#000"/>
<rect x="443.9" y="239.1" width="1.8" height="1.8" fill="#000"/>
<rect x="458.7" y="259.5" width="1.8" height="1.8" fill="#000"/>
<rect x="449.0" y="244.1" width="1.8" height="1.8" fill="#000"/>
<rect x="456.7" y="244.1" width="1.8" height="1.8" fill="#000"/>
<rect x="451.8" y="236.3" width="1.8" height="1.8" fill="#000"/>
<rect x="462.3" y="226.1" width="1.8" height="1.8" fill="#000"/>
<rect x="443.4" y="250.3" width="1.8" height="1.8" fill="#000"/>
<rect x="439.6" y="223.8" width="1.8" height="1.8" fill="#000"/>
<rect x="449.0" y="240.5" width="1.8" height="1.8" fill="#000"/>
<rect x="456.0" y="235.8" width="1.8" height="1.8" fill="#000"/>
<rect x="462.9" y="238.4" width="1.8" height="1.8" fill="#000"/>
<rect x="439.8" y="238.1" width="1.8" height="1.8" fill="#000"/>
<rect x="465.1" y="261.4" width="1.8" height="1.8" fill="#000"/>
<rect x="450.4" y="229.4" width="1.8" height="1.8" fill="#000"/>
<rect x="461.0" y="247.0" width="1.8" height="1.8" fill="#000"/>
<rect x="445.8" y="243.4" width="1.8" height="1.8" fill="#000"/>
<rect x="445.2" y="232.6" width="1.8" height="1.8" fill="#000"/>
<rect x="448.9" y="227.4" width="1.8" height="1.8" fill="#000"/>
<rect x="445.6" y="234.9" width="1.8" height="1.8" fill="#000"/>
<rect x="465.6" y="238.5" width="1.8" height="1.8" fill="#000"/>
<rect x="465.2" y="243.7" width="1.8" height="1.8" fill="#000"/>
<rect x="459.3" y="236.2" width="1.8" height="1.8" fill="#000"/>
<rect x="439.4" y="234.1" width="1.8" height="1.8" fill="#000"/>
<rect x="443.3" y="225.3" width="1.8" height="1.8" fill="#000"/>
<rect x="463.6" y="242.6" width="1.8" height="1.8" fill="#000"/>
<rect x="437.2" y="236.9" width="1.8" height="1.8" fill="#000"/>
<rect x="448.5" y="248.5" width="1.8" height="1.8" fill="#000"/>
<rect x="460.0" y="227.1" width="1.8" height="1.8" fill="#000"/>
<rect x="461.7" y="239.6" width="1.8" height="1.8" fill="#000"/>
<rect x="445.8" y="231.1" width="1.8" height="1.8" fill="#000"/>
<rect x="463.8" y="241.7" width="1.8" height="1.8" fill="#000"/>
<rect x="442.7" y="230.3" width="1.8" height="1.8" fill="#000"/>
<rect x="440.4" y="230.0" width="1.8" height="1.8" fill="#000"/>
<rect x="444.8" y="234.2" width="1.8" height="1.8" fill="#000"/>
<rect x="444.3" y="232.9" width="1.8" height="1.8" fill="#000"/>
<rect x="436.0" y="233.2" width="1.8" height="1.8" fill="#000"/>
<rect x="435.9" y="230.3" width="1.8" height="1.8" fill="#000"/>
<rect x="450.0" y="251.1" width="1.8" height="1.8" fill="#000"/>
<rect x="438.7" y="245.9" width="1.8" height="1.8" fill="#000"/>
<rect x="461.0" y="256.7" width="1.8" height="1.8" fill="#000"/>
<rect x="451.0" y="232.7" width="1.8" height="1.8" fill="#000"/>
<rect x="461.0" y="231.8" width="1.8" height="1.8" fill="#000"/>
<rect x="454.9" y="244.6" width="1.8" height="1.8" fill="#000"/>
<rect x="439.4" y="237.3" width="1.8" height="1.8" fill="#000"/>
<rect x="458.1" y="234.1" width="1.8" height="1.8" fill="#000"/>
<rect x="461.2" y="234.5" width="1.8" height="1.8" fill="#000"/>
<rect x="456.0" y="238.8" width="1.8" height="1.8" fill="#000"/>
<rect x="449.5" y="235.7" width="1.8" height="1.8" fill="#000"/>
<rect x="449.1" y="230.3" width="1.8" height="1.8" fill="#000"/>
<rect x="452.2" y="218.3" width="1.8" height="1.8" fill="#000"/>
<rect x="465.0" y="240.3" width="1.8" height="1.8" fill="#000"/>
<rect x="447.1" y="236.2" width="1.8" height="1.8" fill="#000"/>
<rect x="450.8" y="235.7" width="1.8" height="1.8" fill="#000"/>
<rect x="443.5" y="236.7" width="1.8" height="1.8" fill="#000"/>
<rect x="447.7" y="236.0" width="1.8" height="1.8" fill="#000"/>
<rect x="442.5" y="230.3" width="1.8" height="1.8" fill="#000"/>
<rect x="451.6" y="235.2" width="1.8" height="1.8" fill="#000"/>
<rect x="462.4" y="254.3" width="1.8" height="1.8" fill="#000"/>
<rect x="445.4" y="245.0" width="1.8" height="1.8" fill="#000"/>
<rect x="455.1" y="231.4" width="1.8" height="1.8" fill="#000"/>
<rect x="461.0" y="227.2" width="1.8" height="1.8" fill="#000"/>
<rect x="460.3" y="257.6" width="1.8" height="1.8" fill="#000"/>
<rect x="451.5" y="243.9" width="1.8" height="1.8" fill="#000"/>
<rect x="460.8" y="229.7" width="1.8" height="1.8" fill="#000"/>
<rect x="462.8" y="246.6" width="1.8" height="1.8" fill="#000"/>
<rect x="436.4" y="246.5" width="1.8" height="1.8" fill="#000"/>
<rect x="446.5" y="240.6" width="1.8" height="1.8" fill="#000"/>
<rect x="454.7" y="231.5" width="1.8" height="1.8" fill="#000"/>
<rect x="456.3" y="243.5" width="1.8" height="1.8" fill="#000"/>
<rect x="458.4" y="223.8" width="1.8" height="1.8" fill="#000"/>
<rect x="451.8" y="235.7" width="1.8" height="1.8" fill="#000"/>
<rect x="443.1" y="225.8" width="1.8" height="1.8" fill="#000"/>
<rect x="443.6" y="231.5" width="1.8" height="1.8" fill="#000"/>
<rect x="465.4" y="237.6" width="1.8" height="1.8" fill="#000"/>
<rect x="447.1" y="225.3" width="1.8" height="1.8" fill="#000"/>
<rect x="454.3" y="240.7" width="1.8" height="1.8" fill="#000"/>
<rect x="437.8" y="246.6" width="1.8" height="1.8" fill="#000"/>
<rect x="444.7" y="236.3" width="1.8" height="1.8" fill="#000"/>
<rect x="435.8" y="224.8" width="1.8" height="1.8" fill="#000"/>
<rect x="456.7" y="237.2" width="1.8" height="1.8" fill="#000"/>
<rect x="444.3" y="224.6" width="1.8" height="1.8" fill="#000"/>
<rect x="439.0" y="243.4" width="1.8" height="1.8" fill="#000"/>
<rect x="441.5" y="240.2" width="1.8" height="1.8" fill="#000"/>
<rect x="449.5" y="241.1" width="1.8" height="1.8" fill="#000"/>
<rect x="465.1" y="244.2" width="1.8" height="1.8" fill="#000"/>
<rect x="464.4" y="236.5" width="1.8" height="1.8" fill="#000"/>
<rect x="453.3" y="231.4" width="1.8" height="1.8" fill="#000"/>
<rect x="439.5" y="252.6" width="1.8" height="1.8" fill="#000"/>
<rect x="451.0" y="248.0" width="1.8" height="1.8" fill="#000"/>
<rect x="463.0" y="245.9" width="1.8" height="1.8" fill="#000"/>
<rect x="436.2" y="240.7" width="1.8" height="1.8" fill="#000"/>
<rect x="444.7" y="243.4" width="1.8" height="1.8" fill="#000"/>
<rect x="446.0" y="235.6" width="1.8" height="1.8" fill="#000"/>
<rect x="458.4" y="235.8" width="1.8" height="1.8" fill="#000"/>
<rect x="439.1" y="243.9" width="1.8" height="1.8" fill="#000"/>
<rect x="444.3" y="249.5" width="1.8" height="1.8" fill="#000"/>
<rect x="447.5" y="250.2" width="1.8" height="1.8" fill="#000"/>
<rect x="448.5" y="253.4" width="1.8" height="1.8" fill="#000"/>
<rect x="436.9" y="239.4" width="1.8" height="1.8" fill="#000"/>
<rect x="464.1" y="233.2" width="1.8" height="1.8" fill="#000"/>
<rect x="443.6" y="240.8" width="1.8" height="1.8" fill="#000"/>
<rect x="464.8" y="233.6" width="1.8" height="1.8" fill="#000"/>
<rect x="460.3" y="232.0" width="1.8" height="1.8" fill="#000"/>
<rect x="452.3" y="222.2" width="1.8" height="1.8" fill="#000"/>
<rect x="436.9" y="258.8" width="1.8" height="1.8" fill="#000"/>
<rect x="455.2" y="263.4" width="1.8" height="1.8" fill="#000"/>
<rect x="436.9" y="232.5" width="1.8" height="1.8" fill="#000"/>
<rect x="446.0" y="233.4" width="1.8" height="1.8" fill="#000"/>
<rect x="458.1" y="230.5" width="1.8" height="1.8" fill="#000"/>
<rect x="444.6" y="244.5" width="1.8" height="1.8" fill="#000"/>
<rect x="447.5" y="226.1" width="1.8" height="1.8" fill="#000"/>
<rect x="463.2" y="233.5" width="1.8" height="1.8" fill="#000"/>
<rect x="442.2" y="232.0" width="1.8" height="1.8" fill="#000"/>
<rect x="439.7" y="229.5" width="1.8" height="1.8" fill="#000"/>
<rect x="438.2" y="236.2" width="1.8" height="1.8" fill="#000"/>
<rect x="443.3" y="231.8" width="1.8" height="1.8" fill="#000"/>
<rect x="462.6" y="233.3" width="1.8" height="1.8" fill="#000"/>
<rect x="451.5" y="254.4" width="1.8" height="1.8" fill="#000"/>
<rect x="445.8" y="232.3" width="1.8" height="1.8" fill="#000"/>
<rect x="439.3" y="239.1" width="1.8" height="1.8" fill="#000"/>
<rect x="454.7" y="218.4" width="1.8" height="1.8" fill="#000"/>
<rect x="443.0" y="241.2" width="1.8" height="1.8" fill="#000"/>
<rect x="449.1" y="230.7" width="1.8" height="1.8" fill="#000"/>
<rect x="436.1" y="228.4" width="1.8" height="1.8" fill="#000"/>
<rect x="457.2" y="247.2" width="1.8" height="1.8" fill="#000"/>
<rect x="435.4" y="259.8" width="1.8" height="1.8" fill="#000"/>
<rect x="463.9" y="234.5" width="1.8" height="1.8" fill="#000"/>
<rect x="443.0" y="222.5" width="1.8" height="1.8" fill="#000"/>
<rect x="440.1" y="250.4" width="1.8" height="1.8" fill="#000"/>
<rect x="457.6" y="242.7" width="1.8" height="1.8" fill="#000"/>
<rect x="458.9" y="250.7" width="1.8" height="1.8" fill="#000"/>
<rect x="459.4" y="237.8" width="1.8" height="1.8" fill="#000"/>
<rect x="463.6" y="236.6" width="1.8" height="1.8" fill="#000"/>
<rect x="443.1" y="237.2" width="1.8" height="1.8" fill="#000"/>
<rect x="456.8" y="232.6" width="1.8" height="1.8" fill="#000"/>
<rect x="453.3" y="228.5" width="1.8" height="1.8" fill="#000"/>
<rect x="442.3" y="232.4" width="1.8" height="1.8" fill="#000"/>
<rect x="449.5" y="230.2" width="1.8" height="1.8" fill="#000"/>
<rect x="455.2" y="242.6" width="1.8" height="1.8" fill="#000"/>
<rect x="443.0" y="252.4" width="1.8" height="1.8" fill="#000"/>
<rect x="457.0" y="241.9" width="1.8" height="1.8" fill="#000"/>
<rect x="456.1" y="228.1" width="1.8" height="1.8" fill="#000"/>
<rect x="443.3" y="234.9" width="1.8" height="1.8" fill="#000"/>
<rect x="436.4" y="235.2" width="1.8" height="1.8" fill="#000"/>
<rect x="448.3" y="238.2" width="1.8" height="1.8" fill="#000"/>
<rect x="458.1" y="236.1" width="1.8" height="1.8" fill="#000"/>
<rect x="441.7" y="224.5" width="1.8" height="1.8" fill="#000"/>
<rect x="442.5" y="252.1" width="1.8" height="1.8" fill="#000"/>
<rect x="458.7" y="224.3" width="1.8" height="1.8" fill="#000"/>
<rect x="441.2" y="228.4" width="1.8" height="1.8" fill="#000"/>
<rect x="448.2" y="238.4" width="1.8" height="1.8" fill="#000"/>
<rect x="447.5" y="236.6" width="1.8" height="1.8" fill="#000"/>
<rect x="465.3" y="237.2" width="1.8" height="1.8" fill="#000"/>
<rect x="447.5" y="233.7" width="1.8" height="1.8" fill="#000"/>
<rect x="462.5" y="241.9" width="1.8" height="1.8" fill="#000"/>
<rect x="445.5" y="214.1" width="1.8" height="1.8" fill="#000"/>
<rect x="464.1" y="236.2" width="1.8" height="1.8" fill="#000"/>
<rect x="447.0" y="225.1" width="1.8" height="1.8" fill="#000"/>
<rect x="445.6" y="234.0" width="1.8" height="1.8" fill="#000"/>
<rect x="446.2" y="230.5" width="1.8" height="1.8" fill="#000"/>
<rect x="439.2" y="243.1" width="1.8" height="1.8" fill="#000"/>
<rect x="460.6" y="240.2" width="1.8" height="1.8" fill="#000"/>
<rect x="448.7" y="231.9" width="1.8" height="1.8" fill="#000"/>
<rect x="463.6" y="242.5" width="1.8" height="1.8" fill="#000"/>
<rect x="446.6" y="234.9" width="1.8" height="1.8" fill="#000"/>
<rect x="460.3" y="230.6" width="1.8" height="1.8" fill="#000"/>
<rect x="436.6" y="240.8" width="1.8" height="1.8" fill="#000"/>
<rect x="443.3" y="221.9" width="1.8" height="1.8" fill="#000"/>
<rect x="463.0" y="232.4" width="1.8" height="1.8" fill="#000"/>
<rect x="454.3" y="238.4" width="1.8" height="1.8" fill="#000"/>
<rect x="457.4" y="219.0" width="1.8" height="1.8" fill="#000"/>
<rect x="458.6" y="236.1" width="1.8" height="1.8" fill="#000"/>
<rect x="454.9" y="242.2" width="1.8" height="1.8" fill="#000"/>
<rect x="450.0" y="234.2" width="1.8" height="1.8" fill="#000"/>
<rect x="464.7" y="241.9" width="1.8" height="1.8" fill="#000"/>
<rect x="450.5" y="236.0" width="1.8" height="1.8" fill="#000"/>
<rect x="441.0" y="229.9" width="1.8" height="1.8" fill="#000"/>
<rect x="459.1" y="245.0" width="1.8" height="1.8" fill="#000"/>
<rect x="445.5" y="248.6" width="1.8" height="1.8" fill="#000"/>
<rect x="437.8" y="243.7" width="1.8" height="1.8" fill="#000"/>
<rect x="458.5" y="226.9" width="1.8" height="1.8" fill="#000"/>
<rect x="452.4" y="234.4" width="1.8" height="1.8" fill="#000"/>
<rect x="465.5" y="235.3" width="1.8" height="1.8" fill="#000"/>
<rect x="438.0" y="233.4" width="1.8" height="1.8" fill="#000"/>
<rect x="450.7" y="236.4" width="1.8" height="1.8" fill="#000"/>
<rect x="448.2" y="252.0" width="1.8" height="1.8" fill="#000"/>
<rect x="456.1" y="234.4" width="1.8" height="1.8" fill="#000"/>
<rect x="439.1" y="232.6" width="1.8" height="1.8" fill="#000"/>
<rect x="444.4" y="258.6" width="1.8" height="1.8" fill="#000"/>
<rect x="441.5" y="243.8" width="1.8" height="1.8" fill="#000"/>
<rect x="442.9" y="228.0" width="1.8" height="1.8" fill="#000"/>
<rect x="445.4" y="229.3" width="1.8" height="1.8" fill="#000"/>
<rect x="465.9" y="241.9" width="1.8" height="1.8" fill="#000"/>
<rect x="455.5" y="234.5" width="1.8" height="1.8" fill="#000"/>
<rect x="438.5" y="220.5" width="1.8" height="1.8" fill="#000"/>
<rect x="463.5" y="230.5" width="1.8" height="1.8" fill="#000"/>
<rect x="444.4" y="247.8" width="1.8" height="1.8" fill="#000"/>
<rect x="453.3" y="229.2" width="1.8" height="1.8" fill="#000"/>
<rect x="446.8" y="211.9" width="1.8" height="1.8" fill="#000"/>
<rect x="459.3" y="252.6" width="1.8" height="1.8" fill="#000"/>
<rect x="438.6" y="240.2" width="1.8" height="1.8" fill="#000"/>
<rect x="446.7" y="239.5" width="1.8" height="1.8" fill="#000"/>
<rect x="441.7" y="239.3" width="1.8" height="1.8" fill="#000"/>
<rect x="441.6" y="244.0" width="1.8" height="1.8" fill="#000"/>
<rect x="445.4" y="241.8" width="1.8" height="1.8" fill="#000"/>
<rect x="441.6" y="239.0" width="1.8" height="1.8" fill="#000"/>
<rect x="452.2" y="233.3" width="1.8" height="1.8" fill="#000"/>
<rect x="452.3" y="230.5" width="1.8" height="1.8" fill="#000"/>
<rect x="438.2" y="231.9" width="1.8" height="1.8" fill="#000"/>
<rect x="444.1" y="238.3" width="1.8" height="1.8" fill="#000"/>
<rect x="464.7" y="242.6" width="1.8" height="1.8" fill="#000"/>
<rect x="448.2" y="241.8" width="1.8" height="1.8" fill="#000"/>
<rect x="466.0" y="248.1" width="1.8" height="1.8" fill="#000"/>
<rect x="441.7" y="232.4" width="1.8" height="1.8" fill="#000"/>
<rect x="463.1" y="225.6" width="1.8" height="1.8" fill="#000"/>
<rect x="462.5" y="233.0" width="1.8" height="1.8" fill="#000"/>
<rect x="440.4" y="242.3" width="1.8" height="1.8" fill="#000"/>
<rect x="463.3" y="245.2" width="1.8" height="1.8" fill="#000"/>
<rect x="454.5" y="239.1" width="1.8" height="1.8" fill="#000"/>
<rect x="444.1" y="239.8" width="1.8" height="1.8" fill="#000"/>
<rect x="463.8" y="236.1" width="1.8" height="1.8" fill="#000"/>
<rect x="465.1" y="248.3" width="1.8" height="1.8" fill="#000"/>
<rect x="439.3" y="235.3" width="1.8" height="1.8" fill="#000"/>
<rect x="437.0" y="229.0" width="1.8" height="1.8" fill="#000"/>
<rect x="447.3" y="245.5" width="1.8" height="1.8" fill="#000"/>
<rect x="440.3" y="260.4" width="1.8" height="1.8" fill="#000"/>
<rect x="442.2" y="259.4" width="1.8" height="1.8" fill="#000"/>
<rect x="441.0" y="228.7" width="1.8" height="1.8" fill="#000"/>
<rect x="447.7" y="246.5" width="1.8" height="1.8" fill="#000"/>
<rect x="443.0" y="238.6" width="1.8" height="1.8" fill="#000"/>
<rect x="462.9" y="239.0" width="1.8" height="1.8" fill="#000"/>
<rect x="436.6" y="246.6" width="1.8" height="1.8" fill="#000"/>
<rect x="439.0" y="251.4" width="1.8" height="1.8" fill="#000"/>
<rect x="444.8" y="245.1" width="1.8" height="1.8" fill="#000"/>
<rect x="453.3" y="238.9" width="1.8" height="1.8" fill="#000"/>
<rect x="448.9" y="240.0" width="1.8" height="1.8" fill="#000"/>
<rect x="454.4" y="242.2" width="1.8" height="1.8" fill="#000"/>
<rect x="459.3" y="234.9" width="1.8" height="1.8" fill="#000"/>
<rect x="440.9" y="224.5" width="1.8" height="1.8" fill="#000"/>
<rect x="448.6" y="233.2" width="1.8" height="1.8" fill="#000"/>
<rect x="449.0" y="233.8" width="1.8" height="1.8" fill="#000"/>
<rect x="437.9" y="226.6" width="1.8" height="1.8" fill="#000"/>
<rect x="459.3" y="238.8" width="1.8" height="1.8" fill="#000"/>
<rect x="447.0" y="228.4" width="1.8" height="1.8" fill="#000"/>
<rect x="439.6" y="238.3" width="1.8" height="1.8" fill="#000"/>
<rect x="460.4" y="222.9" width="1.8" height="1.8" fill="#000"/>
<rect x="465.5" y="236.3" width="1.8" height="1.8" fill="#000"/>
<rect x="440.5" y="221.4" width="1.8" height="1.8" fill="#000"/>
<rect x="464.0" y="250.8" width="1.8" height="1.8" fill="#000"/>
<rect x="440.3" y="242.8" width="1.8" height="1.8" fill="#000"/>
<rect x="443.8" y="226.2" width="1.8" height="1.8" fill="#000"/>
<rect x="463.6" y="234.1" width="1.8" height="1.8" fill="#000"/>
<rect x="443.5" y="229.7" width="1.8" height="1.8" fill="#000"/>
<rect x="441.0" y="236.8" width="1.8" height="1.8" fill="#000"/>
<rect x="464.1" y="234.3" width="1.8" height="1.8" fill="#000"/>
<rect x="459.5" y="237.2" width="1.8" height="1.8" fill="#000"/>
<rect x="451.7" y="238.5" width="1.8" height="1.8" fill="#000"/>
<rect x="452.4" y="244.8" width="1.8" height="1.8" fill="#000"/>
<rect x="462.5" y="225.3" width="1.8" height="1.8" fill="#000"/>
<rect x="447.5" y="226.4" width="1.8" height="1.8" fill="#000"/>
<rect x="443.5" y="244.1" width="1.8" height="1.8" fill="#000"/>
<rect x="458.9" y="253.8" width="1.8" height="1.8" fill="#000"/>
<rect x="440.8" y="239.0" width="1.8" height="1.8" fill="#000"/>
<rect x="443.2" y="221.0" width="1.8" height="1.8" fill="#000"/>
<rect x="465.6" y="232.2" width="1.8" height="1.8" fill="#000"/>
<rect x="435.5" y="239.0" width="1.8" height="1.8" fill="#000"/>
<rect x="440.0" y="241.0" width="1.8" height="1.8" fill="#000"/>
<rect x="462.9" y="243.4" width="1.8" height="1.8" fill="#000"/>
<rect x="442.4" y="232.6" width="1.8" height="1.8" fill="#000"/>
<rect x="446.3" y="235.5" width="1.8" height="1.8" fill="#000"/>
<rect x="446.4" y="235.9" width="1.8" height="1.8" fill="#000"/>
<rect x="441.7" y="243.8" width="1.8" height="1.8" fill="#000"/>
<rect x="450.0" y="240.5" width="1.8" height="1.8" fill="#000"/>
<rect x="440.0" y="231.3" width="1.8" height="1.8" fill="#000"/>
<rect x="455.0" y="238.0" width="1.8" height="1.8" fill="#000"/>
<rect x="443.5" y="240.7" width="1.8" height="1.8" fill="#000"/>
<rect x="455.2" y="242.8" width="1.8" height="1.8" fill="#000"/>
<rect x="449.0" y="241.8" width="1.8" height="1.8" fill="#000"/>
<rect x="457.9" y="228.6" width="1.8" height="1.8" fill="#000"/>
<rect x="451.7" y="234.3" width="1.8" height="1.8" fill="#000"/>
<rect x="442.7" y="237.2" width="1.8" height="1.8" fill="#000"/>
<rect x="452.3" y="235.8" width="1.8" height="1.8" fill="#000"/>
<rect x="439.8" y="245.3" width="1.8" height="1.8" fill="#000"/>
<rect x="455.1" y="242.3" width="1.8" height="1.8" fill="#000"/>
<rect x="440.8" y="252.7" width="1.8" height="1.8" fill="#000"/>
<rect x="462.7" y="236.7" width="1.8" height="1.8" fill="#000"/>
<rect x="457.4" y="239.5" width="1.8" height="1.8" fill="#000"/>
<rect x="449.7" y="229.7" width="1.8" height="1.8" fill="#000"/>
<rect x="449.3" y="260.6" width="1.8" height="1.8" fill="#000"/>
<rect x="436.6" y="232.1" width="1.8" height="1.8" fill="#000"/>
<rect x="458.4" y="233.0" width="1.8" height="1.8" fill="#000"/>
<rect x="443.6" y="232.1" width="1.8" height="1.8" fill="#000"/>
<rect x="448.8" y="244.9" width="1.8" height="1.8" fill="#000"/>
<rect x="455.1" y="253.1" width="1.8" height="1.8" fill="#000"/>
<rect x="442.1" y="244.7" width="1.8" height="1.8" fill="#000"/>
<rect x="442.6" y="233.6" width="1.8" height="1.8" fill="#000"/>
<rect x="464.4" y="242.4" width="1.8" height="1.8" fill="#000"/>
<rect x="445.5" y="255.4" width="1.8" height="1.8" fill="#000"/>
<rect x="463.3" y="223.6" width="1.8" height="1.8" fill="#000"/>
<rect x="465.5" y="239.5" width="1.8" height="1.8" fill="#000"/>
<rect x="461.2" y="245.4" width="1.8" height="1.8" fill="#000"/>
<rect x="457.6" y="234.9" width="1.8" height="1.8" fill="#000"/>
<rect x="444.8" y="241.7" width="1.8" height="1.8" fill="#000"/>
<rect x="463.4" y="238.0" width="1.8" height="1.8" fill="#000"/>
<rect x="436.2" y="237.9" width="1.8" height="1.8" fill="#000"/>
<rect x="439.8" y="230.3" width="1.8" height="1.8" fill="#000"/>
<rect x="436.7" y="238.7" width="1.8" height="1.8" fill="#000"/>
<rect x="458.0" y="256.3" width="1.8" height="1.8" fill="#000"/>
<rect x="453.5" y="243.8" width="1.8" height="1.8" fill="#000"/>
<rect x="462.8" y="230.8" width="1.8" height="1.8" fill="#000"/>
<rect x="462.0" y="247.5" width="1.8" height="1.8" fill="#000"/>
<rect x="441.7" y="237.7" width="1.8" height="1.8" fill="#000"/>
<rect x="436.5" y="237.1" width="1.8" height="1.8" fill="#000"/>
<rect x="460.7" y="236.5" width="1.8" height="1.8" fill="#000"/>
<rect x="444.2" y="244.9" width="1.8" height="1.8" fill="#000"/>
<rect x="441.7" y="226.6" width="1.8" height="1.8" fill="#000"/>
<rect x="448.4" y="229.4" width="1.8" height="1.8" fill="#000"/>
<rect x="457.4" y="236.2" width="1.8" height="1.8" fill="#000"/>
<rect x="445.2" y="230.5" width="1.8" height="1.8" fill="#000"/>
<rect x="454.4" y="267.9" width="1.8" height="1.8" fill="#000"/>
<rect x="448.1" y="236.3" width="1.8" height="1.8" fill="#000"/>
<rect x="457.0" y="235.1" width="1.8" height="1.8" fill="#000"/>
<rect x="442.0" y="242.2" width="1.8" height="1.8" fill="#000"/>
<rect x="440.6" y="223.7" width="1.8" height="1.8" fill="#000"/>
<rect x="441.6" y="229.2" width="1.8" height="1.8" fill="#000"/>
<rect x="450.5" y="242.1" width="1.8" height="1.8" fill="#000"/>
<rect x="459.9" y="236.1" width="1.8" height="1.8" fill="#000"/>
<rect x="460.9" y="242.3" width="1.8" height="1.8" fill="#000"/>
<rect x="464.4" y="235.8" width="1.8" height="1.8" fill="#000"/>
<rect x="450.7" y="233.7" width="1.8" height="1.8" fill="#000"/>
<rect x="454.9" y="225.7" width="1.8" height="1.8" fill="#000"/>
<rect x="459.6" y="233.5" width="1.8" height="1.8" fill="#000"/>
<rect x="446.3" y="246.2" width="1.8" height="1.8" fill="#000"/>
<rect x="438.0" y="247.3" width="1.8" height="1.8" fill="#000"/>
<rect x="436.2" y="227.0" width="1.8" height="1.8" fill="#000"/>
<rect x="450.8" y="237.2" width="1.8" height="1.8" fill="#000"/>
<rect x="462.5" y="221.4" width="1.8" height="1.8" fill="#000"/>
<rect x="458.6" y="244.1" width="1.8" height="1.8" fill="#000"/>
<rect x="455.2" y="239.5" width="1.8" height="1.8" fill="#000"/>
<rect x="461.3" y="237.8" width="1.8" height="1.8" fill="#000"/>
<rect x="458.2" y="236.8" width="1.8" height="1.8" fill="#000"/>
<rect x="453.2" y="246.9" width="1.8" height="1.8" fill="#000"/>
<rect x="449.6" y="231.6" width="1.8" height="1.8" fill="#000"/>
<rect x="444.7" y="242.7" width="1.8" height="1.8" fill="#000"/>
<rect x="461.3" y="235.1" width="1.8" height="1.8" fill="#000"/>
<rect x="445.4" y="233.1" width="1.8" height="1.8" fill="#000"/>
<rect x="440.3" y="231.7" width="1.8" height="1.8" fill="#000"/>
<rect x="457.8" y="229.1" width="1.8" height="1.8" fill="#000"/>
<rect x="464.9" y="218.8" width="1.8" height="1.8" fill="#000"/>
<rect x="459.8" y="250.6" width="1.8" height="1.8" fill="#000"/>
<rect x="448.8" y="219.2" width="1.8" height="1.8" fill="#000"/>
<rect x="441.7" y="238.1" width="1.8" height="1.8" fill="#000"/>
<rect x="436.4" y="238.5" width="1.8" height="1.8" fill="#000"/>
<rect x="450.8" y="233.3" width="1.8" height="1.8" fill="#000"/>
<rect x="449.6" y="246.1" width="1.8" height="1.8" fill="#000"/>
<rect x="458.1" y="241.5" width="1.8" height="1.8" fill="#000"/>
<rect x="448.6" y="251.1" width="1.8" height="1.8" fill="#000"/>
<rect x="442.4" y="236.0" width="1.8" height="1.8" fill="#000"/>
<rect x="462.4" y="256.5" width="1.8" height="1.8" fill="#000"/>
<rect x="456.3" y="250.9" width="1.8" height="1.8" fill="#000"/>
<rect x="449.3" y="248.7" width="1.8" height="1.8" fill="#000"/>
<rect x="448.3" y="238.1" width="1.8" height="1.8" fill="#000"/>
<rect x="457.3" y="247.4" width="1.8" height="1.8" fill="#000"/>
<rect x="449.4" y="236.0" width="1.8" height="1.8" fill="#000"/>
<rect x="448.0" y="228.8" width="1.8" height="1.8" fill="#000"/>
<rect x="455.5" y="236.0" width="1.8" height="1.8" fill="#000"/>
<rect x="447.3" y="246.7" width="1.8" height="1.8" fill="#000"/>
<rect x="452.1" y="234.1" width="1.8" height="1.8" fill="#000"/>
<rect x="459.4" y="236.3" width="1.8" height="1.8" fill="#000"/>
<rect x="453.0" y="249.1" width="1.8" height="1.8" fill="#000"/>
<rect x="457.4" y="236.4" width="1.8" height="1.8" fill="#000"/>
<rect x="451.4" y="244.2" width="1.8" height="1.8" fill="#000"/>
<rect x="464.5" y="245.8" width="1.8" height="1.8" fill="#000"/>
<rect x="458.8" y="238.7" width="1.8" height="1.8" fill="#000"/>
<rect x="465.6" y="242.2" width="1.8" height="1.8" fill="#000"/>
<rect x="447.7" y="230.9" width="1.8" height="1.8" fill="#000"/>
<rect x="448.3" y="234.1" width="1.8" height="1.8" fill="#000"/>
<rect x="443.5" y="238.0" width="1.8" height="1.8" fill="#000"/>
<rect x="458.2" y="242.0" width="1.8" height="1.8" fill="#000"/>
<rect x="460.0" y="252.0" width="1.8" height="1.8" fill="#000"/>
<rect x="441.9" y="236.8" width="1.8" height="1.8" fill="#000"/>
<rect x="454.9" y="233.9" width="1.8" height="1.8" fill="#000"/>
<rect x="452.7" y="248.2" width="1.8" height="1.8" fill="#000"/>
<rect x="455.0" y="229.8" width="1.8" height="1.8" fill="#000"/>
<rect x="460.5" y="245.9" width="1.8" height="1.8" fill="#000"/>
<rect x="439.2" y="238.4" width="1.8" height="1.8" fill="#000"/>
<rect x="446.3" y="228.0" width="1.8" height="1.8" fill="#000"/>
<rect x="443.2" y="244.6" width="1.8" height="1.8" fill="#000"/>
<rect x="441.1" y="229.4" width="1.8" height="1.8" fill="#000"/>
<rect x="442.9" y="237.0" width="1.8" height="1.8" fill="#000"/>
<rect x="450.1" y="241.4" width="1.8" height="1.8" fill="#000"/>
<rect x="446.5" y="242.5" width="1.8" height="1.8" fill="#000"/>
<rect x="461.6" y="257.3" width="1.8" height="1.8" fill="#000"/>
<rect x="459.5" y="229.0" width="1.8" height="1.8" fill="#000"/>
<rect x="460.9" y="249.0" width="1.8" height="1.8" fill="#000"/>
<rect x="464.6" y="235.0" width="1.8" height="1.8" fill="#000"/>
<rect x="443.1" y="235.9" width="1.8" height="1.8" fill="#000"/>
<rect x="459.2" y="232.9" width="1.8" height="1.8" fill="#000"/>
<rect x="440.1" y="232.1" width="1.8" height="1.8" fill="#000"/>
<rect x="462.8" y="241.3" width="1.8" height="1.8" fill="#000"/>
<rect x="459.4" y="240.0" width="1.8" height="1.8" fill="#000"/>
<rect x="461.2" y="225.9" width="1.8" height="1.8" fill="#000"/>
<rect x="456.7" y="243.4" width="1.8" height="1.8" fill="#000"/>
<rect x="462.5" y="236.4" width="1.8" height="1.8" fill="#000"/>
<rect x="443.5" y="243.3" width="1.8" height="1.8" fill="#000"/>
<rect x="437.2" y="230.9" width="1.8" height="1.8" fill="#000"/>
<rect x="439.8" y="229.9" width="1.8" height="1.8" fill="#000"/>
<rect x="461.9" y="244.5" width="1.8" height="1.8" fill="#000"/>
<rect x="461.2" y="235.9" width="1.8" height="1.8" fill="#000"/>
<rect x="461.2" y="245.3" width="1.8" height="1.8" fill="#000"/>
<rect x="448.3" y="239.8" width="1.8" height="1.8" fill="#000"/>
<rect x="454.9" y="227.3" width="1.8" height="1.8" fill="#000"/>
<rect x="454.1" y="231.6" width="1.8" height="1.8" fill="#000"/>
<rect x="465.5" y="233.0" width="1.8" height="1.8" fill="#000"/>
<rect x="450.3" y="238.5" width="1.8" height="1.8" fill="#000"/>
<rect x="454.6" y="223.7" width="1.8" height="1.8" fill="#000"/>
<rect x="461.9" y="233.7" width="1.8" height="1.8" fill="#000"/>
<rect x="459.1" y="244.2" width="1.8" height="1.8" fill="#000"/>
<rect x="448.8" y="234.7" width="1.8" height="1.8" fill="#000"/>
<rect x="444.4" y="248.0" width="1.8" height="1.8" fill="#000"/>
<rect x="447.8" y="251.2" width="1.8" height="1.8" fill="#000"/>
<rect x="465.3" y="237.1" width="1.8" height="1.8" fill="#000"/>
<rect x="459.7" y="228.0" width="1.8" height="1.8" fill="#000"/>
<rect x="453.4" y="238.3" width="1.8" height="1.8" fill="#000"/>
<rect x="459.5" y="230.8" width="1.8" height="1.8" fill="#000"/>
<rect x="452.1" y="238.4" width="1.8" height="1.8" fill="#000"/>
<rect x="444.6" y="250.0" width="1.8" height="1.8" fill="#000"/>
<rect x="454.1" y="230.3" width="1.8" height="1.8" fill="#000"/>
<rect x="459.6" y="221.7" width="1.8" height="1.8" fill="#000"/>
<rect x="454.6" y="256.6" width="1.8" height="1.8" fill="#000"/>
<rect x="453.7" y="254.6" width="1.8" height="1.8" fill="#000"/>
<rect x="449.5" y="238.9" width="1.8" height="1.8" fill="#000"/>
<rect x="438.5" y="225.1" width="1.8" height="1.8" fill="#000"/>
<rect x="463.5" y="224.6" width="1.8" height="1.8" fill="#000"/>
<rect x="446.7" y="233.3" width="1.8" height="1.8" fill="#000"/>
<rect x="443.3" y="239.6" width="1.8" height="1.8" fill="#000"/>
<rect x="448.3" y="244.5" width="1.8" height="1.8" fill="#000"/>
<rect x="464.1" y="244.8" width="1.8" height="1.8" fill="#000"/>
<rect x="452.8" y="231.9" width="1.8" height="1.8" fill="#000"/>
<rect x="453.1" y="226.9" width="1.8" height="1.8" fill="#000"/>
<rect x="449.1" y="227.7" width="1.8" height="1.8" fill="#000"/>
<rect x="464.2" y="242.9" width="1.8" height="1.8" fill="#000"/>
<rect x="450.0" y="232.3" width="1.8" height="1.8" fill="#000"/>
<rect x="441.9" y="228.1" width="1.8" height="1.8" fill="#000"/>
<rect x="435.9" y="230.1" width="1.8" height="1.8" fill="#000"/>
<rect x="465.1" y="237.4" width="1.8" height="1.8" fill="#000"/>
<rect x="462.1" y="239.2" width="1.8" height="1.8" fill="#000"/>
<rect x="442.8" y="225.2" width="1.8" height="1.8" fill="#000"/>
<rect x="441.2" y="241.1" width="1.8" height="1.8" fill="#000"/>
<rect x="461.7" y="234.4" width="1.8" height="1.8" fill="#000"/>
<rect x="438.0" y="263.0" width="1.8" height="1.8" fill="#000"/>
<rect x="464.0" y="237.9" width="1.8" height="1.8" fill="#000"/>
<rect x="465.0" y="243.3" width="1.8" height="1.8" fill="#000"/>
<rect x="455.4" y="241.1" width="1.8" height="1.8" fill="#000"/>
<rect x="437.8" y="243.1" width="1.8" height="1.8" fill="#000"/>
<rect x="461.8" y="236.5" width="1.8" height="1.8" fill="#000"/>
<rect x="437.2" y="240.1" width="1.8" height="1.8" fill="#000"/>
<rect x="456.2" y="242.5" width="1.8" height="1.8" fill="#000"/>
<rect x="459.9" y="239.3" width="1.8" height="1.8" fill="#000"/>
<rect x="448.2" y="241.9" width="1.8" height="1.8" fill="#000"/>
<rect x="459.5" y="243.6" width="1.8" height="1.8" fill="#000"/>
<rect x="444.4" y="239.8" width="1.8" height="1.8" fill="#000"/>
<rect x="465.3" y="244.6" width="1.8" height="1.8" fill="#000"/>
<rect x="454.0" y="238.0" width="1.8" height="1.8" fill="#000"/>
<rect x="460.9" y="253.3" width="1.8" height="1.8" fill="#000"/>
<rect x="462.7" y="238.6" width="1.8" height="1.8" fill="#000"/>
<rect x="456.4" y="229.3" width="1.8" height="1.8" fill="#000"/>
<rect x="444.1" y="226.2" width="1.8" height="1.8" fill="#000"/>
<rect x="443.5" y="243.5" width="1.8" height="1.8" fill="#000"/>
<rect x="462.6" y="246.7" width="1.8" height="1.8" fill="#000"/>
<rect x="461.0" y="242.5" width="1.8" height="1.8" fill="#000"/>
<rect x="443.8" y="232.3" width="1.8" height="1.8" fill="#000"/>
<rect x="460.2" y="255.5" width="1.8" height="1.8" fill="#000"/>
<rect x="438.0" y="233.3" width="1.8" height="1.8" fill="#000"/>
<rect x="459.9" y="239.2" width="1.8" height="1.8" fill="#000"/>
<rect x="442.6" y="236.0" width="1.8" height="1.8" fill="#000"/>
<rect x="456.2" y="251.8" width="1.8" height="1.8" fill="#000"/>
<rect x="458.5" y="234.6" width="1.8" height="1.8" fill="#000"/>
<rect x="449.5" y="234.0" width="1.8" height="1.8" fill="#000"/>
<rect x="442.5" y="231.9" width="1.8" height="1.8" fill="#000"/>
<rect x="462.9" y="247.0" width="1.8" height="1.8" fill="#000"/>
<rect x="453.5" y="257.5" width="1.8" height="1.8" fill="#000"/>
<rect x="441.3" y="237.1" width="1.8" height="1.8" fill="#000"/>
<rect x="452.7" y="237.9" width="1.8" height="1.8" fill="#000"/>
<rect x="451.3" y="242.1" width="1.8" height="1.8" fill="#000"/>
<rect x="446.9" y="213.6" width="1.8" height="1.8" fill="#000"/>
<rect x="454.8" y="229.6" width="1.8" height="1.8" fill="#000"/>
<rect x="446.0" y="233.9" width="1.8" height="1.8" fill="#000"/>
<rect x="436.0" y="228.4" width="1.8" height="1.8" fill="#000"/>
<rect x="450.3" y="222.4" width="1.8" height="1.8" fill="#000"/>
<rect x="443.4" y="236.8" width="1.8" height="1.8" fill="#000"/>
<rect x="459.0" y="270.6" width="1.8" height="1.8" fill="#000"/>
<rect x="465.0" y="229.6" width="1.8" height="1.8" fill="#000"/>
<rect x="440.9" y="231.6" width="1.8" height="1.8" fill="#000"/>
<rect x="437.0" y="234.9" width="1.8" height="1.8" fill="#000"/>
<rect x="464.5" y="230.8" width="1.8" height="1.8" fill="#000"/>
<rect x="437.4" y="253.4" width="1.8" height="1.8" fill="#000"/>
<rect x="464.9" y="238.7" width="1.8" height="1.8" fill="#000"/>
<rect x="452.7" y="233.9" width="1.8" height="1.8" fill="#000"/>
<rect x="447.5" y="226.2" width="1.8" height="1.8" fill="#000"/>
<rect x="440.3" y="238.7" width="1.8" height="1.8" fill="#000"/>
<rect x="436.6" y="234.4" width="1.8" height="1.8" fill="#000"/>
<rect x="446.2" y="236.2" width="1.8" height="1.8" fill="#000"/>
<rect x="436.8" y="223.5" width="1.8" height="1.8" fill="#000"/>
<rect x="457.2" y="256.8" width="1.8" height="1.8" fill="#000"/>
<rect x="439.8" y="233.7" width="1.8" height="1.8" fill="#000"/>
<rect x="464.2" y="243.7" width="1.8" height="1.8" fill="#000"/>
<rect x="458.7" y="248.4" width="1.8" height="1.8" fill="#000"/>
<rect x="445.3" y="227.3" width="1.8" height="1.8" fill="#000"/>
<rect x="440.6" y="230.4" width="1.8" height="1.8" fill="#000"/>
<rect x="439.8" y="230.5" width="1.8" height="1.8" fill="#000"/>
<rect x="441.4" y="223.3" width="1.8" height="1.8" fill="#000"/>
<rect x="463.9" y="235.1" width="1.8" height="1.8" fill="#000"/>
<rect x="462.7" y="223.5" width="1.8" height="1.8" fill="#000"/>
<rect x="449.1" y="241.5" width="1.8" height="1.8" fill="#000"/>
<rect x="454.7" y="224.2" width="1.8" height="1.8" fill="#000"/>
<rect x="445.8" y="241.7" width="1.8" height="1.8" fill="#000"/>
<rect x="439.8" y="260.8" width="1.8" height="1.8" fill="#000"/>
<rect x="437.1" y="234.6" width="1.8" height="1.8" fill="#000"/>
<rect x="462.1" y="250.0" width="1.8" height="1.8" fill="#000"/>
<rect x="448.0" y="237.2" width="1.8" height="1.8" fill="#000"/>
<rect x="445.7" y="237.7" width="1.8" height="1.8" fill="#000"/>
<rect x="450.5" y="223.1" width="1.8" height="1.8" fill="#000"/>
<rect x="465.4" y="233.2" width="1.8" height="1.8" fill="#000"/>
<rect x="462.9" y="237.9" width="1.8" height="1.8" fill="#000"/>
<rect x="444.2" y="239.8" width="1.8" height="1.8" fill="#000"/>
<rect x="441.6" y="228.5" width="1.8" height="1.8" fill="#000"/>
<rect x="463.8" y="212.0" width="1.8" height="1.8" fill="#000"/>
<rect x="444.3" y="237.3" width="1.8" height="1.8" fill="#000"/>
<rect x="444.4" y="224.3" width="1.8" height="1.8" fill="#000"/>
<rect x="435.9" y="236.1" width="1.8" height="1.8" fill="#000"/>
<rect x="436.7" y="208.5" width="1.8" height="1.8" fill="#000"/>
<rect x="440.1" y="209.8" width="1.8" height="1.8" fill="#000"/>
<rect x="449.6" y="207.1" width="1.8" height="1.8" fill="#000"/>
<rect x="452.1" y="207.1" width="1.8" height="1.8" fill="#000"/>
<rect x="454.9" y="208.5" width="1.8" height="1.8" fill="#000"/>
<rect x="464.3" y="211.1" width="1.8" height="1.8" fill="#000"/>
<rect x="443.4" y="269.3" width="1.8" height="1.8" fill="#000"/>
<rect x="450.9" y="263.4" width="1.8" height="1.8" fill="#000"/>
<rect x="450.9" y="270.1" width="1.8" height="1.8" fill="#000"/>
<rect x="453.6" y="266.1" width="1.8" height="1.8" fill="#000"/>
<rect x="457.6" y="267.5" width="1.8" height="1.8" fill="#000"/>
<rect x="461.6" y="268.8" width="1.8" height="1.8" fill="#000"/>
<rect x="450.9" y="278.1" width="1.8" height="1.8" fill="#000"/>
<rect x="463.8" y="277.7" width="1.8" height="1.8" fill="#000"/>
<rect x="440.1" y="260.1" width="1.8" height="1.8" fill="#000"/>
<rect x="460.3" y="260.8" width="1.8" height="1.8" fill="#000"/>
<rect x="446.1" y="273.1" width="1.8" height="1.8" fill="#000"/>
<rect x="456.1" y="274.1" width="1.8" height="1.8" fill="#000"/>
<rect x="459.2" y="234.3" width="1.6" height="1.6" fill="#c8102e"/>
<rect x="440.7" y="230.2" width="1.6" height="1.6" fill="#c8102e"/>
<rect x="459.9" y="236.5" width="1.6" height="1.6" fill="#c8102e"/>
<rect x="442.0" y="235.4" width="1.6" height="1.6" fill="#c8102e"/>
<rect x="462.2" y="232.8" width="1.6" height="1.6" fill="#c8102e"/>
<rect x="452.7" y="231.9" width="1.6" height="1.6" fill="#c8102e"/>
<rect x="441.8" y="239.4" width="1.6" height="1.6" fill="#c8102e"/>
<rect x="456.6" y="232.6" width="1.6" height="1.6" fill="#c8102e"/>
<rect x="439.0" y="231.2" width="1.6" height="1.6" fill="#c8102e"/>
<rect x="453.7" y="236.1" width="1.6" height="1.6" fill="#c8102e"/>
<rect x="444.4" y="232.7" width="1.6" height="1.6" fill="#c8102e"/>
<rect x="453.8" y="238.7" width="1.6" height="1.6" fill="#c8102e"/>
<rect x="459.4" y="237.2" width="1.6" height="1.6" fill="#c8102e"/>
<rect x="442.4" y="231.0" width="1.6" height="1.6" fill="#c8102e"/>
<rect x="457.2" y="235.1" width="1.6" height="1.6" fill="#c8102e"/>
<rect x="456.9" y="230.9" width="1.6" height="1.6" fill="#c8102e"/>
<rect x="459.3" y="234.2" width="1.6" height="1.6" fill="#c8102e"/>
<rect x="460.2" y="240.6" width="1.6" height="1.6" fill="#c8102e"/>
<rect x="450.5" y="230.4" width="1.6" height="1.6" fill="#c8102e"/>
<rect x="462.1" y="235.9" width="1.6" height="1.6" fill="#c8102e"/>
<rect x="461.0" y="233.4" width="1.6" height="1.6" fill="#c8102e"/>
<rect x="442.0" y="240.2" width="1.6" height="1.6" fill="#c8102e"/>
<rect x="447.0" y="232.2" width="1.6" height="1.6" fill="#c8102e"/>
<rect x="447.1" y="237.3" width="1.6" height="1.6" fill="#c8102e"/>
<rect x="436.9" y="236.4" width="1.6" height="1.6" fill="#c8102e"/>
<rect x="449.2" y="236.4" width="1.6" height="1.6" fill="#c8102e"/>
<rect x="440.2" y="238.8" width="1.6" height="1.6" fill="#c8102e"/>
<rect x="459.5" y="240.6" width="1.6" height="1.6" fill="#c8102e"/>
<rect x="445.7" y="238.7" width="1.6" height="1.6" fill="#c8102e"/>
<rect x="447.4" y="239.2" width="1.6" height="1.6" fill="#c8102e"/>
<rect x="438.5" y="240.7" width="1.6" height="1.6" fill="#c8102e"/>
<rect x="463.3" y="236.1" width="1.6" height="1.6" fill="#c8102e"/>
<rect x="451.1" y="236.6" width="1.6" height="1.6" fill="#c8102e"/>
<rect x="451.7" y="230.4" width="1.6" height="1.6" fill="#c8102e"/>
<rect x="463.7" y="232.9" width="1.6" height="1.6" fill="#c8102e"/>
<rect x="441.9" y="231.4" width="1.6" height="1.6" fill="#c8102e"/>
<rect x="443.8" y="240.0" width="1.6" height="1.6" fill="#c8102e"/>
<rect x="437.6" y="231.4" width="1.6" height="1.6" fill="#c8102e"/>
<rect x="456.2" y="232.5" width="1.6" height="1.6" fill="#c8102e"/>
<rect x="437.3" y="237.4" width="1.6" height="1.6" fill="#c8102e"/>
<rect x="452.8" y="236.5" width="1.6" height="1.6" fill="#c8102e"/>
<rect x="456.3" y="231.4" width="1.6" height="1.6" fill="#c8102e"/>
<rect x="461.0" y="238.8" width="1.6" height="1.6" fill="#c8102e"/>
<rect x="438.1" y="231.7" width="1.6" height="1.6" fill="#c8102e"/>
<rect x="450.5" y="236.2" width="1.6" height="1.6" fill="#c8102e"/>
<rect x="444.6" y="231.7" width="1.6" height="1.6" fill="#c8102e"/>
<rect x="448.1" y="231.8" width="1.6" height="1.6" fill="#c8102e"/>
<rect x="453.3" y="240.5" width="1.6" height="1.6" fill="#c8102e"/>
<rect x="440.9" y="237.1" width="1.6" height="1.6" fill="#c8102e"/>
<rect x="457.6" y="232.2" width="1.6" height="1.6" fill="#c8102e"/>
<rect x="459.8" y="241.5" width="1.6" height="1.6" fill="#c8102e"/>
<rect x="447.6" y="235.2" width="1.6" height="1.6" fill="#c8102e"/>
<rect x="460.1" y="236.5" width="1.6" height="1.6" fill="#c8102e"/>
<rect x="447.8" y="241.5" width="1.6" height="1.6" fill="#c8102e"/>
<rect x="458.4" y="234.3" width="1.6" height="1.6" fill="#c8102e"/>
<line x1="488.90" y1="267.30" x2="488.90" y2="299.60" stroke="#888" stroke-width="1" />
<rect x="475.4" y="273.4" width="28.2" height="11.6" fill="#1f5f9e" stroke="#101820" stroke-width="1.0"/>
<line x1="475.40" y1="279.10" x2="503.60" y2="279.10" stroke="#101820" stroke-width="1.2" />
<rect x="482.10" y="253.10" width="1.6" height="1.6" fill="#000"/>
<rect x="491.30" y="253.10" width="1.6" height="1.6" fill="#000"/>
<rect x="482.10" y="266.50" width="1.6" height="1.6" fill="#000"/>
<rect x="494.00" y="271.50" width="1.6" height="1.6" fill="#000"/>
<rect x="500.20" y="275.60" width="1.6" height="1.6" fill="#000"/>
<rect x="499.40" y="284.90" width="1.6" height="1.6" fill="#000"/>
<rect x="491.00" y="299.70" width="1.6" height="1.6" fill="#000"/>
<rect x="477.10" y="308.20" width="1.6" height="1.6" fill="#000"/>
<rect x="488.10" y="308.20" width="1.6" height="1.6" fill="#000"/>
<rect x="479.20" y="275.20" width="1.6" height="1.6" fill="#000"/>
<rect x="485.20" y="280.20" width="1.6" height="1.6" fill="#000"/>
<rect x="496.20" y="276.20" width="1.6" height="1.6" fill="#000"/>
<rect x="0.5" y="0.5" width="519" height="335" fill="none" stroke="#000" stroke-width="1"/>
</svg>
</body></html>
